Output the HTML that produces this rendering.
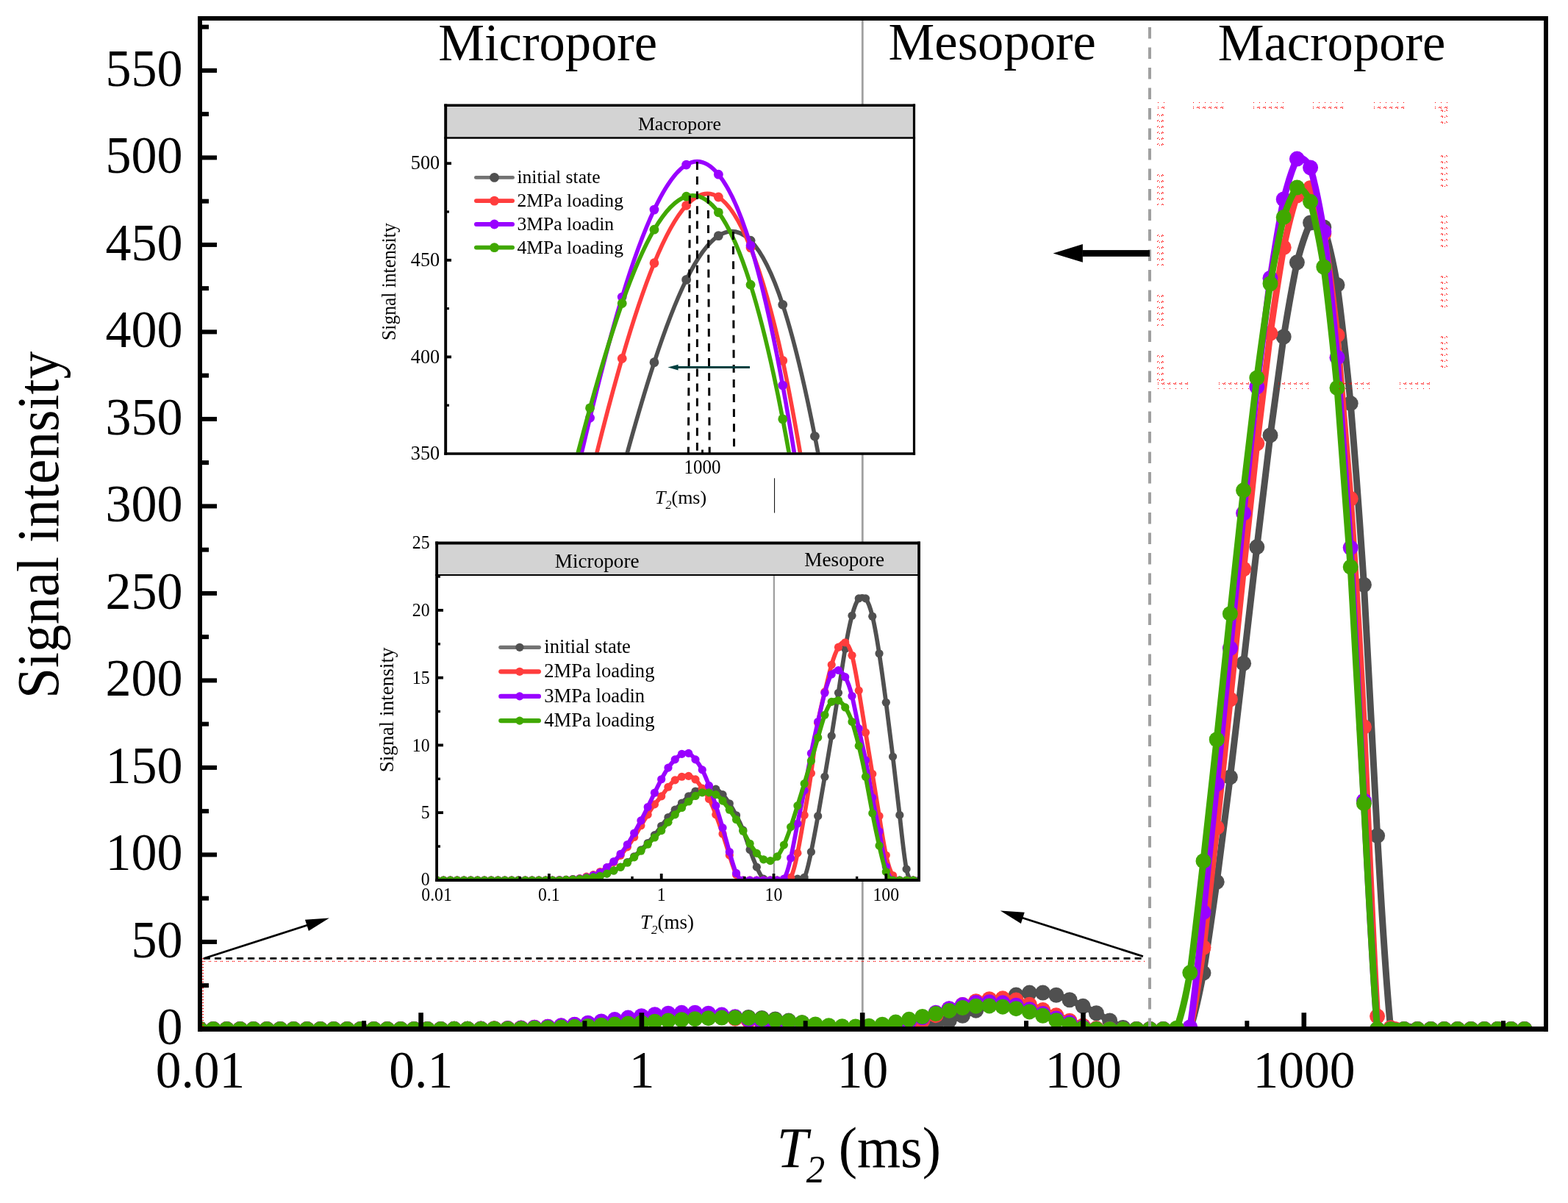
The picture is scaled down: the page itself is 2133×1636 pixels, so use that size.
<!DOCTYPE html>
<html lang="en"><head><meta charset="utf-8"><title>T2 spectrum - signal intensity</title>
<style>html,body{margin:0;padding:0;background:#fff}body{width:2133px;height:1636px;overflow:hidden}svg{display:block}text{font-family:"Liberation Serif",serif;fill:#000}</style>
</head><body>
<svg width="2133" height="1636" viewBox="0 0 2133 1636" role="img" aria-label="T2 spectrum: signal intensity versus T2 (ms) with two inset plots">
<defs>
<clipPath id="cm"><rect x="275" y="28" width="1825" height="1368"/></clipPath>
<clipPath id="ca"><rect x="608.2" y="188.6" width="633.8" height="426.8"/></clipPath>
<clipPath id="cb"><rect x="596" y="783" width="652.3" height="412.1"/></clipPath>
<pattern id="rdt" x="0" y="0" width="8" height="10" patternUnits="userSpaceOnUse"><g fill="#FF0000" shape-rendering="crispEdges"><rect x="0" y="0" width="1" height="1"/><rect x="6" y="6" width="1" height="1"/><rect x="0" y="6" width="1" height="1"/><rect x="5" y="7" width="1" height="1"/><rect x="7" y="7" width="1" height="1"/><rect x="0" y="8" width="1" height="1"/></g></pattern>
<pattern id="rdb" x="0" y="0" width="8" height="10" patternUnits="userSpaceOnUse"><g fill="#FF0000" shape-rendering="crispEdges"><rect x="0" y="9" width="1" height="1"/><rect x="6" y="3" width="1" height="1"/><rect x="0" y="3" width="1" height="1"/><rect x="5" y="2" width="1" height="1"/><rect x="7" y="2" width="1" height="1"/><rect x="0" y="1" width="1" height="1"/></g></pattern>
<pattern id="rdl" x="0" y="0" width="10" height="8" patternUnits="userSpaceOnUse"><g fill="#FF0000" shape-rendering="crispEdges"><rect x="1" y="0" width="1" height="1"/><rect x="0" y="1" width="1" height="1"/><rect x="3" y="2" width="1" height="1"/><rect x="7" y="0" width="1" height="1"/><rect x="6" y="1" width="1" height="1"/><rect x="8" y="1" width="1" height="1"/><rect x="6" y="2" width="1" height="1"/></g></pattern>
<pattern id="rdr" x="0" y="0" width="10" height="8" patternUnits="userSpaceOnUse"><g fill="#FF0000" shape-rendering="crispEdges"><rect x="8" y="0" width="1" height="1"/><rect x="9" y="1" width="1" height="1"/><rect x="6" y="2" width="1" height="1"/><rect x="2" y="0" width="1" height="1"/><rect x="3" y="1" width="1" height="1"/><rect x="1" y="1" width="1" height="1"/><rect x="3" y="2" width="1" height="1"/></g></pattern>
</defs>
<rect width="2133" height="1636" fill="#fff"/>
<line x1="1173.3" y1="25" x2="1173.3" y2="1399.4" stroke="#A0A0A0" stroke-width="2.8"/>
<g clip-path="url(#cm)">
<path d="M272,1399.4C278.07,1399.4 284.13,1399.4 290.2,1399.4C296.27,1399.4 302.33,1399.4 308.4,1399.4C314.47,1399.4 320.53,1399.4 326.6,1399.4C332.67,1399.4 338.73,1399.4 344.8,1399.4C350.87,1399.4 356.93,1399.4 363,1399.4C369.07,1399.4 375.13,1399.4 381.2,1399.4C387.27,1399.4 393.33,1399.4 399.4,1399.4C405.47,1399.4 411.53,1399.4 417.6,1399.4C423.67,1399.4 429.73,1399.4 435.8,1399.4C441.87,1399.4 447.93,1399.4 454,1399.4C460.07,1399.4 466.13,1399.4 472.2,1399.4C478.27,1399.4 484.33,1399.4 490.4,1399.4C496.47,1399.4 502.53,1399.4 508.6,1399.4C514.67,1399.4 520.73,1399.4 526.8,1399.4C532.87,1399.4 538.93,1399.4 545,1399.4C551.07,1399.4 557.13,1399.4 563.2,1399.4C569.27,1399.4 575.33,1399.4 581.4,1399.4C587.47,1399.4 593.53,1399.41 599.6,1399.4C605.67,1399.38 611.73,1399.36 617.8,1399.33C623.87,1399.3 629.93,1399.28 636,1399.26C642.07,1399.24 648.13,1399.22 654.2,1399.19C660.27,1399.13 666.33,1399.05 672.4,1399C678.47,1398.95 684.53,1398.92 690.6,1398.88C696.67,1398.82 702.73,1398.75 708.8,1398.67C714.87,1398.55 720.93,1398.41 727,1398.26C733.07,1398.09 739.13,1397.9 745.2,1397.72C751.27,1397.52 757.33,1397.33 763.4,1397.1C769.47,1396.84 775.53,1396.55 781.6,1396.25C787.67,1395.93 793.73,1395.6 799.8,1395.25C805.87,1394.89 811.93,1394.5 818,1394.11C824.07,1393.72 830.13,1393.32 836.2,1392.91C842.27,1392.46 848.33,1392 854.4,1391.51C860.47,1390.99 866.53,1390.45 872.6,1389.92C878.67,1389.4 884.73,1388.89 890.8,1388.4C896.87,1387.94 902.93,1387.5 909,1387.08C915.07,1386.67 921.13,1386.29 927.2,1385.89C933.27,1385.49 939.33,1385.08 945.4,1384.71C951.47,1384.37 957.53,1384.08 963.6,1383.83C969.67,1383.64 975.73,1383.51 981.8,1383.4C987.87,1383.34 993.93,1383.3 1000,1383.28C1006.07,1383.31 1012.13,1383.34 1018.2,1383.47C1024.27,1383.71 1030.33,1384.04 1036.4,1384.42C1042.47,1384.89 1048.53,1385.41 1054.6,1385.99C1060.67,1386.63 1066.73,1387.32 1072.8,1388.05C1078.87,1388.84 1084.93,1389.67 1091,1390.63C1097.07,1391.71 1103.13,1392.93 1109.2,1394.07C1115.27,1395.15 1121.33,1396.16 1127.4,1397.1C1133.47,1397.92 1139.53,1398.67 1145.6,1399.16C1151.67,1399.41 1157.73,1399.39 1163.8,1399.4C1169.87,1399.38 1175.93,1399.4 1182,1399.4C1188.07,1399.4 1194.13,1399.39 1200.2,1399.4C1206.27,1399.41 1212.33,1399.45 1218.4,1399.4C1224.47,1399.32 1230.53,1399.15 1236.6,1399.16C1242.67,1399.18 1248.73,1399.38 1254.8,1398.93C1260.87,1397.9 1266.93,1396.22 1273,1394.45C1279.07,1392.43 1285.13,1390.33 1291.2,1388.17C1297.27,1385.92 1303.33,1383.61 1309.4,1381.29C1315.47,1378.94 1321.53,1376.57 1327.6,1374.16C1333.67,1371.7 1339.73,1369.2 1345.8,1366.62C1351.87,1364.02 1357.93,1361.34 1364,1358.9C1370.07,1356.72 1376.13,1354.78 1382.2,1353.11C1388.27,1351.82 1394.33,1350.81 1400.4,1350.1C1406.47,1349.8 1412.53,1349.8 1418.6,1350.1C1424.67,1350.82 1430.73,1351.83 1436.8,1353.23C1442.87,1355.08 1448.93,1357.32 1455,1359.75C1461.07,1362.45 1467.13,1365.34 1473.2,1368.31C1479.27,1371.4 1485.33,1374.57 1491.4,1377.79C1497.47,1381.1 1503.53,1384.47 1509.6,1388C1515.67,1391.43 1521.73,1395.02 1527.8,1397.46C1533.87,1398.89 1539.93,1399.17 1546,1399.4C1552.07,1399.37 1558.13,1399.28 1564.2,1399.4C1570.27,1399.52 1576.33,1399.86 1582.4,1399.4C1588.47,1398.94 1594.53,1397.67 1600.6,1399.4C1606.67,1401.13 1612.73,1405.87 1618.8,1399.4C1624.87,1382.75 1630.93,1354.89 1637,1323.09C1643.07,1284.96 1649.13,1242.91 1655.2,1199.37C1661.27,1153.34 1667.33,1105.84 1673.4,1056.94C1679.47,1006.39 1685.53,954.45 1691.6,902.17C1697.67,849.42 1703.73,796.33 1709.8,743.86C1715.87,692.23 1721.93,641.22 1728,591.94C1734.07,545.06 1740.13,499.91 1746.2,458.04C1752.27,420.52 1758.33,386.28 1764.4,356.84C1770.47,333.72 1776.53,315.4 1782.6,303.04C1788.67,298.64 1794.73,300.21 1800.8,308.96C1806.87,327.39 1812.93,353 1819,387.41C1825.07,432.85 1831.13,487.1 1837.2,548.57C1843.27,621.45 1849.33,701.56 1855.4,795.29C1861.47,901.62 1867.53,1021.56 1873.6,1136.57C1879.67,1241.11 1885.73,1340.72 1891.8,1399.4C1897.87,1423.03 1903.93,1405.73 1910,1399.4C1916.07,1393.07 1922.13,1397.7 1928.2,1399.4C1934.27,1401.1 1940.33,1399.85 1946.4,1399.4C1952.47,1398.95 1958.53,1399.28 1964.6,1399.4C1970.67,1399.52 1976.73,1399.43 1982.8,1399.4C1988.87,1399.37 1994.93,1399.39 2001,1399.4C2007.07,1399.41 2013.13,1399.4 2019.2,1399.4C2025.27,1399.4 2031.33,1399.4 2037.4,1399.4C2043.47,1399.4 2049.53,1399.4 2055.6,1399.4C2061.67,1399.4 2067.73,1399.4 2073.8,1399.4" fill="none" stroke="#505050" stroke-width="9" stroke-linejoin="round" stroke-linecap="round"/>
<g fill="#505050"><circle cx="272" cy="1399.4" r="10.5"/><circle cx="290.2" cy="1399.4" r="10.5"/><circle cx="308.4" cy="1399.4" r="10.5"/><circle cx="326.6" cy="1399.4" r="10.5"/><circle cx="344.8" cy="1399.4" r="10.5"/><circle cx="363" cy="1399.4" r="10.5"/><circle cx="381.2" cy="1399.4" r="10.5"/><circle cx="399.4" cy="1399.4" r="10.5"/><circle cx="417.6" cy="1399.4" r="10.5"/><circle cx="435.8" cy="1399.4" r="10.5"/><circle cx="454" cy="1399.4" r="10.5"/><circle cx="472.2" cy="1399.4" r="10.5"/><circle cx="490.4" cy="1399.4" r="10.5"/><circle cx="508.6" cy="1399.4" r="10.5"/><circle cx="526.8" cy="1399.4" r="10.5"/><circle cx="545" cy="1399.4" r="10.5"/><circle cx="563.2" cy="1399.4" r="10.5"/><circle cx="581.4" cy="1399.4" r="10.5"/><circle cx="599.6" cy="1399.4" r="10.5"/><circle cx="617.8" cy="1399.33" r="10.5"/><circle cx="636" cy="1399.26" r="10.5"/><circle cx="654.2" cy="1399.19" r="10.5"/><circle cx="672.4" cy="1399" r="10.5"/><circle cx="690.6" cy="1398.88" r="10.5"/><circle cx="708.8" cy="1398.67" r="10.5"/><circle cx="727" cy="1398.26" r="10.5"/><circle cx="745.2" cy="1397.72" r="10.5"/><circle cx="763.4" cy="1397.1" r="10.5"/><circle cx="781.6" cy="1396.25" r="10.5"/><circle cx="799.8" cy="1395.25" r="10.5"/><circle cx="818" cy="1394.11" r="10.5"/><circle cx="836.2" cy="1392.91" r="10.5"/><circle cx="854.4" cy="1391.51" r="10.5"/><circle cx="872.6" cy="1389.92" r="10.5"/><circle cx="890.8" cy="1388.4" r="10.5"/><circle cx="909" cy="1387.08" r="10.5"/><circle cx="927.2" cy="1385.89" r="10.5"/><circle cx="945.4" cy="1384.71" r="10.5"/><circle cx="963.6" cy="1383.83" r="10.5"/><circle cx="981.8" cy="1383.4" r="10.5"/><circle cx="1000" cy="1383.28" r="10.5"/><circle cx="1018.2" cy="1383.47" r="10.5"/><circle cx="1036.4" cy="1384.42" r="10.5"/><circle cx="1054.6" cy="1385.99" r="10.5"/><circle cx="1072.8" cy="1388.05" r="10.5"/><circle cx="1091" cy="1390.63" r="10.5"/><circle cx="1109.2" cy="1394.07" r="10.5"/><circle cx="1127.4" cy="1397.1" r="10.5"/><circle cx="1145.6" cy="1399.16" r="10.5"/><circle cx="1163.8" cy="1399.4" r="10.5"/><circle cx="1182" cy="1399.4" r="10.5"/><circle cx="1200.2" cy="1399.4" r="10.5"/><circle cx="1218.4" cy="1399.4" r="10.5"/><circle cx="1236.6" cy="1399.16" r="10.5"/><circle cx="1254.8" cy="1398.93" r="10.5"/><circle cx="1273" cy="1394.45" r="10.5"/><circle cx="1291.2" cy="1388.17" r="10.5"/><circle cx="1309.4" cy="1381.29" r="10.5"/><circle cx="1327.6" cy="1374.16" r="10.5"/><circle cx="1345.8" cy="1366.62" r="10.5"/><circle cx="1364" cy="1358.9" r="10.5"/><circle cx="1382.2" cy="1353.11" r="10.5"/><circle cx="1400.4" cy="1350.1" r="10.5"/><circle cx="1418.6" cy="1350.1" r="10.5"/><circle cx="1436.8" cy="1353.23" r="10.5"/><circle cx="1455" cy="1359.75" r="10.5"/><circle cx="1473.2" cy="1368.31" r="10.5"/><circle cx="1491.4" cy="1377.79" r="10.5"/><circle cx="1509.6" cy="1388" r="10.5"/><circle cx="1527.8" cy="1397.46" r="10.5"/><circle cx="1546" cy="1399.4" r="10.5"/><circle cx="1564.2" cy="1399.4" r="10.5"/><circle cx="1582.4" cy="1399.4" r="10.5"/><circle cx="1600.6" cy="1399.4" r="10.5"/><circle cx="1618.8" cy="1399.4" r="10.5"/><circle cx="1637" cy="1323.09" r="10.5"/><circle cx="1655.2" cy="1199.37" r="10.5"/><circle cx="1673.4" cy="1056.94" r="10.5"/><circle cx="1691.6" cy="902.17" r="10.5"/><circle cx="1709.8" cy="743.86" r="10.5"/><circle cx="1728" cy="591.94" r="10.5"/><circle cx="1746.2" cy="458.04" r="10.5"/><circle cx="1764.4" cy="356.84" r="10.5"/><circle cx="1782.6" cy="303.04" r="10.5"/><circle cx="1800.8" cy="308.96" r="10.5"/><circle cx="1819" cy="387.41" r="10.5"/><circle cx="1837.2" cy="548.57" r="10.5"/><circle cx="1855.4" cy="795.29" r="10.5"/><circle cx="1873.6" cy="1136.57" r="10.5"/><circle cx="1891.8" cy="1399.4" r="10.5"/><circle cx="1910" cy="1399.4" r="10.5"/><circle cx="1928.2" cy="1399.4" r="10.5"/><circle cx="1946.4" cy="1399.4" r="10.5"/><circle cx="1964.6" cy="1399.4" r="10.5"/><circle cx="1982.8" cy="1399.4" r="10.5"/><circle cx="2001" cy="1399.4" r="10.5"/><circle cx="2019.2" cy="1399.4" r="10.5"/><circle cx="2037.4" cy="1399.4" r="10.5"/><circle cx="2055.6" cy="1399.4" r="10.5"/><circle cx="2073.8" cy="1399.4" r="10.5"/></g>
<path d="M272,1399.4C278.07,1399.4 284.13,1399.4 290.2,1399.4C296.27,1399.4 302.33,1399.4 308.4,1399.4C314.47,1399.4 320.53,1399.4 326.6,1399.4C332.67,1399.4 338.73,1399.4 344.8,1399.4C350.87,1399.4 356.93,1399.4 363,1399.4C369.07,1399.4 375.13,1399.4 381.2,1399.4C387.27,1399.4 393.33,1399.4 399.4,1399.4C405.47,1399.4 411.53,1399.4 417.6,1399.4C423.67,1399.4 429.73,1399.4 435.8,1399.4C441.87,1399.4 447.93,1399.4 454,1399.4C460.07,1399.4 466.13,1399.4 472.2,1399.4C478.27,1399.4 484.33,1399.4 490.4,1399.4C496.47,1399.4 502.53,1399.4 508.6,1399.4C514.67,1399.4 520.73,1399.4 526.8,1399.4C532.87,1399.4 538.93,1399.4 545,1399.4C551.07,1399.4 557.13,1399.4 563.2,1399.4C569.27,1399.4 575.33,1399.4 581.4,1399.4C587.47,1399.39 593.53,1399.38 599.6,1399.38C605.67,1399.36 611.73,1399.35 617.8,1399.33C623.87,1399.29 629.93,1399.25 636,1399.21C642.07,1399.17 648.13,1399.15 654.2,1399.09C660.27,1399.01 666.33,1398.89 672.4,1398.78C678.47,1398.67 684.53,1398.58 690.6,1398.45C696.67,1398.3 702.73,1398.13 708.8,1397.93C714.87,1397.71 720.93,1397.46 727,1397.2C733.07,1396.9 739.13,1396.59 745.2,1396.25C751.27,1395.88 757.33,1395.49 763.4,1395.06C769.47,1394.6 775.53,1394.11 781.6,1393.59C787.67,1393.04 793.73,1392.48 799.8,1391.86C805.87,1391.21 811.93,1390.52 818,1389.85C824.07,1389.19 830.13,1388.57 836.2,1387.93C842.27,1387.31 848.33,1386.68 854.4,1386.13C860.47,1385.63 866.53,1385.2 872.6,1384.71C878.67,1384.19 884.73,1383.61 890.8,1383.09C896.87,1382.63 902.93,1382.22 909,1381.89C915.07,1381.63 921.13,1381.44 927.2,1381.29C933.27,1381.21 939.33,1381.16 945.4,1381.17C951.47,1381.28 957.53,1381.46 963.6,1381.77C969.67,1382.21 975.73,1382.78 981.8,1383.33C987.87,1383.92 993.93,1384.49 1000,1385.18C1006.07,1385.99 1012.13,1386.94 1018.2,1387.93C1024.27,1389 1030.33,1390.13 1036.4,1391.29C1042.47,1392.51 1048.53,1393.76 1054.6,1395.04C1060.67,1396.27 1066.73,1397.53 1072.8,1398.43C1078.87,1399.01 1084.93,1399.23 1091,1399.4C1097.07,1399.44 1103.13,1399.41 1109.2,1399.4C1115.27,1399.39 1121.33,1399.4 1127.4,1399.4C1133.47,1399.4 1139.53,1399.4 1145.6,1399.4C1151.67,1399.4 1157.73,1399.4 1163.8,1399.4C1169.87,1399.4 1175.93,1399.41 1182,1399.4C1188.07,1399.39 1194.13,1399.36 1200.2,1399.4C1206.27,1399.37 1212.33,1399.41 1218.4,1398.93C1224.47,1397.93 1230.53,1396.41 1236.6,1394.66C1242.67,1392.59 1248.73,1390.28 1254.8,1388.02C1260.87,1385.67 1266.93,1383.36 1273,1380.68C1279.07,1377.8 1285.13,1374.55 1291.2,1371.91C1297.27,1369.71 1303.33,1368.14 1309.4,1366.46C1315.47,1364.87 1321.53,1363.18 1327.6,1361.72C1333.67,1360.47 1339.73,1359.45 1345.8,1358.64C1351.87,1358.12 1357.93,1357.82 1364,1357.81C1370.07,1358.2 1376.13,1358.88 1382.2,1360.06C1388.27,1361.76 1394.33,1363.96 1400.4,1366.22C1406.47,1368.64 1412.53,1371.12 1418.6,1373.57C1424.67,1375.99 1430.73,1378.38 1436.8,1380.8C1442.87,1383.23 1448.93,1385.68 1455,1388.17C1461.07,1390.58 1467.13,1393.03 1473.2,1395.04C1479.27,1396.6 1485.33,1397.73 1491.4,1398.57C1497.47,1399.05 1503.53,1399.26 1509.6,1399.4C1515.67,1399.43 1521.73,1399.4 1527.8,1399.4C1533.87,1399.4 1539.93,1399.45 1546,1399.4C1552.07,1399.35 1558.13,1399.21 1564.2,1399.4C1570.27,1399.59 1576.33,1400.1 1582.4,1399.4C1588.47,1398.7 1594.53,1396.78 1600.6,1399.4C1606.67,1402.02 1612.73,1409.17 1618.8,1399.4C1624.87,1374.84 1630.93,1333.36 1637,1288.48C1643.07,1236.65 1649.13,1181.42 1655.2,1125.43C1661.27,1067.92 1667.33,1009.64 1673.4,951C1679.47,891.97 1685.53,832.57 1691.6,773.72C1697.67,715.75 1703.73,658.32 1709.8,603.08C1715.87,550.62 1721.93,500.34 1728,453.3C1734.07,410.65 1740.13,371.24 1746.2,336.46C1752.27,307.83 1758.33,283.82 1764.4,265.83C1770.47,255.89 1776.53,251.97 1782.6,255.64C1788.67,268.94 1794.73,289.83 1800.8,317.73C1806.87,355.78 1812.93,400.85 1819,455.9C1825.07,522.17 1831.13,598.42 1837.2,678.21C1843.27,769.73 1849.33,864.79 1855.4,988.44C1861.47,1123.22 1867.53,1286.58 1873.6,1382.1C1879.67,1427.21 1885.73,1404.47 1891.8,1397.74C1897.87,1389.14 1903.93,1396.55 1910,1399.4C1916.07,1402.03 1922.13,1400.1 1928.2,1399.4C1934.27,1398.7 1940.33,1399.21 1946.4,1399.4C1952.47,1399.59 1958.53,1399.45 1964.6,1399.4C1970.67,1399.35 1976.73,1399.39 1982.8,1399.4C1988.87,1399.41 1994.93,1399.4 2001,1399.4C2007.07,1399.4 2013.13,1399.4 2019.2,1399.4C2025.27,1399.4 2031.33,1399.4 2037.4,1399.4C2043.47,1399.4 2049.53,1399.4 2055.6,1399.4C2061.67,1399.4 2067.73,1399.4 2073.8,1399.4" fill="none" stroke="#FF3D3D" stroke-width="9" stroke-linejoin="round" stroke-linecap="round"/>
<g fill="#FF3D3D"><circle cx="272" cy="1399.4" r="10.5"/><circle cx="290.2" cy="1399.4" r="10.5"/><circle cx="308.4" cy="1399.4" r="10.5"/><circle cx="326.6" cy="1399.4" r="10.5"/><circle cx="344.8" cy="1399.4" r="10.5"/><circle cx="363" cy="1399.4" r="10.5"/><circle cx="381.2" cy="1399.4" r="10.5"/><circle cx="399.4" cy="1399.4" r="10.5"/><circle cx="417.6" cy="1399.4" r="10.5"/><circle cx="435.8" cy="1399.4" r="10.5"/><circle cx="454" cy="1399.4" r="10.5"/><circle cx="472.2" cy="1399.4" r="10.5"/><circle cx="490.4" cy="1399.4" r="10.5"/><circle cx="508.6" cy="1399.4" r="10.5"/><circle cx="526.8" cy="1399.4" r="10.5"/><circle cx="545" cy="1399.4" r="10.5"/><circle cx="563.2" cy="1399.4" r="10.5"/><circle cx="581.4" cy="1399.4" r="10.5"/><circle cx="599.6" cy="1399.38" r="10.5"/><circle cx="617.8" cy="1399.33" r="10.5"/><circle cx="636" cy="1399.21" r="10.5"/><circle cx="654.2" cy="1399.09" r="10.5"/><circle cx="672.4" cy="1398.78" r="10.5"/><circle cx="690.6" cy="1398.45" r="10.5"/><circle cx="708.8" cy="1397.93" r="10.5"/><circle cx="727" cy="1397.2" r="10.5"/><circle cx="745.2" cy="1396.25" r="10.5"/><circle cx="763.4" cy="1395.06" r="10.5"/><circle cx="781.6" cy="1393.59" r="10.5"/><circle cx="799.8" cy="1391.86" r="10.5"/><circle cx="818" cy="1389.85" r="10.5"/><circle cx="836.2" cy="1387.93" r="10.5"/><circle cx="854.4" cy="1386.13" r="10.5"/><circle cx="872.6" cy="1384.71" r="10.5"/><circle cx="890.8" cy="1383.09" r="10.5"/><circle cx="909" cy="1381.89" r="10.5"/><circle cx="927.2" cy="1381.29" r="10.5"/><circle cx="945.4" cy="1381.17" r="10.5"/><circle cx="963.6" cy="1381.77" r="10.5"/><circle cx="981.8" cy="1383.33" r="10.5"/><circle cx="1000" cy="1385.18" r="10.5"/><circle cx="1018.2" cy="1387.93" r="10.5"/><circle cx="1036.4" cy="1391.29" r="10.5"/><circle cx="1054.6" cy="1395.04" r="10.5"/><circle cx="1072.8" cy="1398.43" r="10.5"/><circle cx="1091" cy="1399.4" r="10.5"/><circle cx="1109.2" cy="1399.4" r="10.5"/><circle cx="1127.4" cy="1399.4" r="10.5"/><circle cx="1145.6" cy="1399.4" r="10.5"/><circle cx="1163.8" cy="1399.4" r="10.5"/><circle cx="1182" cy="1399.4" r="10.5"/><circle cx="1200.2" cy="1399.4" r="10.5"/><circle cx="1218.4" cy="1398.93" r="10.5"/><circle cx="1236.6" cy="1394.66" r="10.5"/><circle cx="1254.8" cy="1388.02" r="10.5"/><circle cx="1273" cy="1380.68" r="10.5"/><circle cx="1291.2" cy="1371.91" r="10.5"/><circle cx="1309.4" cy="1366.46" r="10.5"/><circle cx="1327.6" cy="1361.72" r="10.5"/><circle cx="1345.8" cy="1358.64" r="10.5"/><circle cx="1364" cy="1357.81" r="10.5"/><circle cx="1382.2" cy="1360.06" r="10.5"/><circle cx="1400.4" cy="1366.22" r="10.5"/><circle cx="1418.6" cy="1373.57" r="10.5"/><circle cx="1436.8" cy="1380.8" r="10.5"/><circle cx="1455" cy="1388.17" r="10.5"/><circle cx="1473.2" cy="1395.04" r="10.5"/><circle cx="1491.4" cy="1398.57" r="10.5"/><circle cx="1509.6" cy="1399.4" r="10.5"/><circle cx="1527.8" cy="1399.4" r="10.5"/><circle cx="1546" cy="1399.4" r="10.5"/><circle cx="1564.2" cy="1399.4" r="10.5"/><circle cx="1582.4" cy="1399.4" r="10.5"/><circle cx="1600.6" cy="1399.4" r="10.5"/><circle cx="1618.8" cy="1399.4" r="10.5"/><circle cx="1637" cy="1288.48" r="10.5"/><circle cx="1655.2" cy="1125.43" r="10.5"/><circle cx="1673.4" cy="951" r="10.5"/><circle cx="1691.6" cy="773.72" r="10.5"/><circle cx="1709.8" cy="603.08" r="10.5"/><circle cx="1728" cy="453.3" r="10.5"/><circle cx="1746.2" cy="336.46" r="10.5"/><circle cx="1764.4" cy="265.83" r="10.5"/><circle cx="1782.6" cy="255.64" r="10.5"/><circle cx="1800.8" cy="317.73" r="10.5"/><circle cx="1819" cy="455.9" r="10.5"/><circle cx="1837.2" cy="678.21" r="10.5"/><circle cx="1855.4" cy="988.44" r="10.5"/><circle cx="1873.6" cy="1382.1" r="10.5"/><circle cx="1891.8" cy="1397.74" r="10.5"/><circle cx="1910" cy="1399.4" r="10.5"/><circle cx="1928.2" cy="1399.4" r="10.5"/><circle cx="1946.4" cy="1399.4" r="10.5"/><circle cx="1964.6" cy="1399.4" r="10.5"/><circle cx="1982.8" cy="1399.4" r="10.5"/><circle cx="2001" cy="1399.4" r="10.5"/><circle cx="2019.2" cy="1399.4" r="10.5"/><circle cx="2037.4" cy="1399.4" r="10.5"/><circle cx="2055.6" cy="1399.4" r="10.5"/><circle cx="2073.8" cy="1399.4" r="10.5"/></g>
<path d="M272,1399.4C278.07,1399.4 284.13,1399.4 290.2,1399.4C296.27,1399.4 302.33,1399.4 308.4,1399.4C314.47,1399.4 320.53,1399.4 326.6,1399.4C332.67,1399.4 338.73,1399.4 344.8,1399.4C350.87,1399.4 356.93,1399.4 363,1399.4C369.07,1399.4 375.13,1399.4 381.2,1399.4C387.27,1399.4 393.33,1399.4 399.4,1399.4C405.47,1399.4 411.53,1399.4 417.6,1399.4C423.67,1399.4 429.73,1399.4 435.8,1399.4C441.87,1399.4 447.93,1399.4 454,1399.4C460.07,1399.4 466.13,1399.4 472.2,1399.4C478.27,1399.4 484.33,1399.4 490.4,1399.4C496.47,1399.4 502.53,1399.4 508.6,1399.4C514.67,1399.4 520.73,1399.4 526.8,1399.4C532.87,1399.4 538.93,1399.4 545,1399.4C551.07,1399.4 557.13,1399.4 563.2,1399.4C569.27,1399.4 575.33,1399.4 581.4,1399.4C587.47,1399.39 593.53,1399.38 599.6,1399.38C605.67,1399.36 611.73,1399.35 617.8,1399.33C623.87,1399.29 629.93,1399.25 636,1399.21C642.07,1399.18 648.13,1399.15 654.2,1399.12C660.27,1399.06 666.33,1398.99 672.4,1398.9C678.47,1398.8 684.53,1398.67 690.6,1398.55C696.67,1398.4 702.73,1398.26 708.8,1398.05C714.87,1397.79 720.93,1397.46 727,1397.15C733.07,1396.82 739.13,1396.49 745.2,1396.13C751.27,1395.72 757.33,1395.28 763.4,1394.8C769.47,1394.29 775.53,1393.75 781.6,1393.17C787.67,1392.54 793.73,1391.87 799.8,1391.18C805.87,1390.46 811.93,1389.72 818,1388.97C824.07,1388.2 830.13,1387.41 836.2,1386.6C842.27,1385.78 848.33,1384.94 854.4,1384.11C860.47,1383.3 866.53,1382.51 872.6,1381.74C878.67,1381.03 884.73,1380.34 890.8,1379.73C896.87,1379.19 902.93,1378.72 909,1378.28C915.07,1377.91 921.13,1377.57 927.2,1377.31C933.27,1377.17 939.33,1377.1 945.4,1377.19C951.47,1377.44 957.53,1377.84 963.6,1378.28C969.67,1378.82 975.73,1379.39 981.8,1380.08C987.87,1380.91 993.93,1381.84 1000,1382.86C1006.07,1383.97 1012.13,1385.16 1018.2,1386.37C1024.27,1387.62 1030.33,1388.9 1036.4,1390.23C1042.47,1391.6 1048.53,1393.02 1054.6,1394.45C1060.67,1395.8 1066.73,1397.16 1072.8,1398.17C1078.87,1398.84 1084.93,1399.18 1091,1399.4C1097.07,1399.46 1103.13,1399.42 1109.2,1399.4C1115.27,1399.38 1121.33,1399.4 1127.4,1399.4C1133.47,1399.4 1139.53,1399.4 1145.6,1399.4C1151.67,1399.4 1157.73,1399.41 1163.8,1399.4C1169.87,1399.39 1175.93,1399.35 1182,1399.4C1188.07,1399.42 1194.13,1399.52 1200.2,1399.16C1206.27,1398.36 1212.33,1397.09 1218.4,1395.54C1224.47,1393.66 1230.53,1391.5 1236.6,1389.49C1242.67,1387.53 1248.73,1385.72 1254.8,1383.71C1260.87,1381.6 1266.93,1379.29 1273,1377.19C1279.07,1375.22 1285.13,1373.46 1291.2,1371.67C1297.27,1369.94 1303.33,1368.18 1309.4,1366.62C1315.47,1365.31 1321.53,1364.2 1327.6,1363.38C1333.67,1362.89 1339.73,1362.7 1345.8,1362.67C1351.87,1362.89 1357.93,1363.27 1364,1363.85C1370.07,1364.71 1376.13,1365.76 1382.2,1367.17C1388.27,1368.89 1394.33,1370.96 1400.4,1372.86C1406.47,1374.74 1412.53,1376.45 1418.6,1378.4C1424.67,1380.49 1430.73,1382.82 1436.8,1384.94C1442.87,1386.98 1448.93,1388.81 1455,1390.87C1461.07,1392.96 1467.13,1395.28 1473.2,1397.03C1479.27,1398.28 1485.33,1398.95 1491.4,1399.4C1497.47,1399.53 1503.53,1399.44 1509.6,1399.4C1515.67,1399.36 1521.73,1399.37 1527.8,1399.4C1533.87,1399.43 1539.93,1399.48 1546,1399.4C1552.07,1399.32 1558.13,1399.13 1564.2,1399.4C1570.27,1399.67 1576.33,1400.41 1582.4,1399.4C1588.47,1398.39 1594.53,1395.62 1600.6,1399.4C1606.67,1402.87 1612.73,1412.89 1618.8,1397.03C1624.87,1360.63 1630.93,1298.36 1637,1240.61C1643.07,1180.49 1649.13,1124.9 1655.2,1066.41C1661.27,1006.51 1667.33,943.71 1673.4,881.56C1679.47,819.55 1685.53,758.19 1691.6,697.88C1697.67,639.15 1703.73,581.48 1709.8,526.06C1715.87,473.82 1721.93,423.85 1728,378.17C1734.07,337.92 1740.13,301.98 1746.2,271.04C1752.27,247.06 1758.33,228.1 1764.4,216.06C1770.47,212.93 1776.53,216.74 1782.6,227.91C1788.67,249.1 1794.73,277.66 1800.8,314.89C1806.87,363.37 1812.93,420.51 1819,486.24C1825.07,563.6 1831.13,649.54 1837.2,744.81C1843.27,851.48 1849.33,967.47 1855.4,1088.93C1861.47,1205.9 1867.53,1328.34 1873.6,1399.4C1879.67,1429.06 1885.73,1407.35 1891.8,1399.4C1897.87,1391.45 1903.93,1397.27 1910,1399.4C1916.07,1401.53 1922.13,1399.97 1928.2,1399.4C1934.27,1398.83 1940.33,1399.25 1946.4,1399.4C1952.47,1399.55 1958.53,1399.44 1964.6,1399.4C1970.67,1399.36 1976.73,1399.39 1982.8,1399.4C1988.87,1399.41 1994.93,1399.4 2001,1399.4C2007.07,1399.4 2013.13,1399.4 2019.2,1399.4C2025.27,1399.4 2031.33,1399.4 2037.4,1399.4C2043.47,1399.4 2049.53,1399.4 2055.6,1399.4C2061.67,1399.4 2067.73,1399.4 2073.8,1399.4" fill="none" stroke="#9900FF" stroke-width="9" stroke-linejoin="round" stroke-linecap="round"/>
<g fill="#9900FF"><circle cx="272" cy="1399.4" r="10.5"/><circle cx="290.2" cy="1399.4" r="10.5"/><circle cx="308.4" cy="1399.4" r="10.5"/><circle cx="326.6" cy="1399.4" r="10.5"/><circle cx="344.8" cy="1399.4" r="10.5"/><circle cx="363" cy="1399.4" r="10.5"/><circle cx="381.2" cy="1399.4" r="10.5"/><circle cx="399.4" cy="1399.4" r="10.5"/><circle cx="417.6" cy="1399.4" r="10.5"/><circle cx="435.8" cy="1399.4" r="10.5"/><circle cx="454" cy="1399.4" r="10.5"/><circle cx="472.2" cy="1399.4" r="10.5"/><circle cx="490.4" cy="1399.4" r="10.5"/><circle cx="508.6" cy="1399.4" r="10.5"/><circle cx="526.8" cy="1399.4" r="10.5"/><circle cx="545" cy="1399.4" r="10.5"/><circle cx="563.2" cy="1399.4" r="10.5"/><circle cx="581.4" cy="1399.4" r="10.5"/><circle cx="599.6" cy="1399.38" r="10.5"/><circle cx="617.8" cy="1399.33" r="10.5"/><circle cx="636" cy="1399.21" r="10.5"/><circle cx="654.2" cy="1399.12" r="10.5"/><circle cx="672.4" cy="1398.9" r="10.5"/><circle cx="690.6" cy="1398.55" r="10.5"/><circle cx="708.8" cy="1398.05" r="10.5"/><circle cx="727" cy="1397.15" r="10.5"/><circle cx="745.2" cy="1396.13" r="10.5"/><circle cx="763.4" cy="1394.8" r="10.5"/><circle cx="781.6" cy="1393.17" r="10.5"/><circle cx="799.8" cy="1391.18" r="10.5"/><circle cx="818" cy="1388.97" r="10.5"/><circle cx="836.2" cy="1386.6" r="10.5"/><circle cx="854.4" cy="1384.11" r="10.5"/><circle cx="872.6" cy="1381.74" r="10.5"/><circle cx="890.8" cy="1379.73" r="10.5"/><circle cx="909" cy="1378.28" r="10.5"/><circle cx="927.2" cy="1377.31" r="10.5"/><circle cx="945.4" cy="1377.19" r="10.5"/><circle cx="963.6" cy="1378.28" r="10.5"/><circle cx="981.8" cy="1380.08" r="10.5"/><circle cx="1000" cy="1382.86" r="10.5"/><circle cx="1018.2" cy="1386.37" r="10.5"/><circle cx="1036.4" cy="1390.23" r="10.5"/><circle cx="1054.6" cy="1394.45" r="10.5"/><circle cx="1072.8" cy="1398.17" r="10.5"/><circle cx="1091" cy="1399.4" r="10.5"/><circle cx="1109.2" cy="1399.4" r="10.5"/><circle cx="1127.4" cy="1399.4" r="10.5"/><circle cx="1145.6" cy="1399.4" r="10.5"/><circle cx="1163.8" cy="1399.4" r="10.5"/><circle cx="1182" cy="1399.4" r="10.5"/><circle cx="1200.2" cy="1399.16" r="10.5"/><circle cx="1218.4" cy="1395.54" r="10.5"/><circle cx="1236.6" cy="1389.49" r="10.5"/><circle cx="1254.8" cy="1383.71" r="10.5"/><circle cx="1273" cy="1377.19" r="10.5"/><circle cx="1291.2" cy="1371.67" r="10.5"/><circle cx="1309.4" cy="1366.62" r="10.5"/><circle cx="1327.6" cy="1363.38" r="10.5"/><circle cx="1345.8" cy="1362.67" r="10.5"/><circle cx="1364" cy="1363.85" r="10.5"/><circle cx="1382.2" cy="1367.17" r="10.5"/><circle cx="1400.4" cy="1372.86" r="10.5"/><circle cx="1418.6" cy="1378.4" r="10.5"/><circle cx="1436.8" cy="1384.94" r="10.5"/><circle cx="1455" cy="1390.87" r="10.5"/><circle cx="1473.2" cy="1397.03" r="10.5"/><circle cx="1491.4" cy="1399.4" r="10.5"/><circle cx="1509.6" cy="1399.4" r="10.5"/><circle cx="1527.8" cy="1399.4" r="10.5"/><circle cx="1546" cy="1399.4" r="10.5"/><circle cx="1564.2" cy="1399.4" r="10.5"/><circle cx="1582.4" cy="1399.4" r="10.5"/><circle cx="1600.6" cy="1399.4" r="10.5"/><circle cx="1618.8" cy="1397.03" r="10.5"/><circle cx="1637" cy="1240.61" r="10.5"/><circle cx="1655.2" cy="1066.41" r="10.5"/><circle cx="1673.4" cy="881.56" r="10.5"/><circle cx="1691.6" cy="697.88" r="10.5"/><circle cx="1709.8" cy="526.06" r="10.5"/><circle cx="1728" cy="378.17" r="10.5"/><circle cx="1746.2" cy="271.04" r="10.5"/><circle cx="1764.4" cy="216.06" r="10.5"/><circle cx="1782.6" cy="227.91" r="10.5"/><circle cx="1800.8" cy="314.89" r="10.5"/><circle cx="1819" cy="486.24" r="10.5"/><circle cx="1837.2" cy="744.81" r="10.5"/><circle cx="1855.4" cy="1088.93" r="10.5"/><circle cx="1873.6" cy="1399.4" r="10.5"/><circle cx="1891.8" cy="1399.4" r="10.5"/><circle cx="1910" cy="1399.4" r="10.5"/><circle cx="1928.2" cy="1399.4" r="10.5"/><circle cx="1946.4" cy="1399.4" r="10.5"/><circle cx="1964.6" cy="1399.4" r="10.5"/><circle cx="1982.8" cy="1399.4" r="10.5"/><circle cx="2001" cy="1399.4" r="10.5"/><circle cx="2019.2" cy="1399.4" r="10.5"/><circle cx="2037.4" cy="1399.4" r="10.5"/><circle cx="2055.6" cy="1399.4" r="10.5"/><circle cx="2073.8" cy="1399.4" r="10.5"/></g>
<path d="M272,1399.4C278.07,1399.4 284.13,1399.4 290.2,1399.4C296.27,1399.4 302.33,1399.4 308.4,1399.4C314.47,1399.4 320.53,1399.4 326.6,1399.4C332.67,1399.4 338.73,1399.4 344.8,1399.4C350.87,1399.4 356.93,1399.4 363,1399.4C369.07,1399.4 375.13,1399.4 381.2,1399.4C387.27,1399.4 393.33,1399.4 399.4,1399.4C405.47,1399.4 411.53,1399.4 417.6,1399.4C423.67,1399.4 429.73,1399.4 435.8,1399.4C441.87,1399.4 447.93,1399.4 454,1399.4C460.07,1399.4 466.13,1399.4 472.2,1399.4C478.27,1399.4 484.33,1399.4 490.4,1399.4C496.47,1399.4 502.53,1399.4 508.6,1399.4C514.67,1399.4 520.73,1399.4 526.8,1399.4C532.87,1399.4 538.93,1399.4 545,1399.4C551.07,1399.4 557.13,1399.4 563.2,1399.4C569.27,1399.4 575.33,1399.4 581.4,1399.4C587.47,1399.4 593.53,1399.41 599.6,1399.4C605.67,1399.38 611.73,1399.36 617.8,1399.33C623.87,1399.3 629.93,1399.28 636,1399.26C642.07,1399.24 648.13,1399.22 654.2,1399.19C660.27,1399.13 666.33,1399.05 672.4,1399C678.47,1398.95 684.53,1398.92 690.6,1398.88C696.67,1398.82 702.73,1398.75 708.8,1398.67C714.87,1398.55 720.93,1398.41 727,1398.26C733.07,1398.09 739.13,1397.9 745.2,1397.72C751.27,1397.53 757.33,1397.34 763.4,1397.12C769.47,1396.89 775.53,1396.62 781.6,1396.34C787.67,1396.04 793.73,1395.73 799.8,1395.39C805.87,1395.04 811.93,1394.66 818,1394.28C824.07,1393.9 830.13,1393.51 836.2,1393.12C842.27,1392.73 848.33,1392.32 854.4,1391.93C860.47,1391.54 866.53,1391.16 872.6,1390.73C878.67,1390.26 884.73,1389.74 890.8,1389.26C896.87,1388.79 902.93,1388.36 909,1387.93C915.07,1387.52 921.13,1387.11 927.2,1386.72C933.27,1386.35 939.33,1385.99 945.4,1385.63C951.47,1385.29 957.53,1384.96 963.6,1384.66C969.67,1384.41 975.73,1384.2 981.8,1384.07C987.87,1384.01 993.93,1384.03 1000,1384.07C1006.07,1384.15 1012.13,1384.24 1018.2,1384.42C1024.27,1384.71 1030.33,1385.08 1036.4,1385.51C1042.47,1386 1048.53,1386.54 1054.6,1387.08C1060.67,1387.63 1066.73,1388.19 1072.8,1388.78C1078.87,1389.42 1084.93,1390.11 1091,1390.82C1097.07,1391.55 1103.13,1392.31 1109.2,1393C1115.27,1393.62 1121.33,1394.18 1127.4,1394.68C1133.47,1395.11 1139.53,1395.49 1145.6,1395.77C1151.67,1395.94 1157.73,1396.02 1163.8,1396.01C1169.87,1395.87 1175.93,1395.65 1182,1395.28C1188.07,1394.73 1194.13,1394.04 1200.2,1393.24C1206.27,1392.28 1212.33,1391.21 1218.4,1390.09C1224.47,1388.88 1230.53,1387.63 1236.6,1386.37C1242.67,1385.09 1248.73,1383.8 1254.8,1382.5C1260.87,1381.19 1266.93,1379.85 1273,1378.52C1279.07,1377.17 1285.13,1375.82 1291.2,1374.44C1297.27,1373.08 1303.33,1371.68 1309.4,1370.49C1315.47,1369.51 1321.53,1368.74 1327.6,1368.19C1333.67,1367.91 1339.73,1367.87 1345.8,1367.95C1351.87,1368.23 1357.93,1368.64 1364,1369.16C1370.07,1369.85 1376.13,1370.66 1382.2,1371.67C1388.27,1372.91 1394.33,1374.36 1400.4,1375.89C1406.47,1377.58 1412.53,1379.35 1418.6,1381.29C1424.67,1383.37 1430.73,1385.6 1436.8,1387.69C1442.87,1389.68 1448.93,1391.53 1455,1393.36C1461.07,1395.04 1467.13,1396.7 1473.2,1397.93C1479.27,1398.75 1485.33,1399.14 1491.4,1399.4C1497.47,1399.47 1503.53,1399.41 1509.6,1399.4C1515.67,1399.39 1521.73,1399.42 1527.8,1399.4C1533.87,1399.38 1539.93,1399.3 1546,1399.4C1552.07,1399.5 1558.13,1399.76 1564.2,1399.4C1570.27,1399.04 1576.33,1398.06 1582.4,1399.4C1588.47,1400.58 1594.53,1404.09 1600.6,1398.22C1606.67,1382.45 1612.73,1357.29 1618.8,1322.85C1624.87,1278.2 1630.93,1224.26 1637,1170.93C1643.07,1115.84 1649.13,1061.36 1655.2,1005.74C1661.27,949.33 1667.33,891.78 1673.4,834.63C1679.47,777.92 1685.53,721.6 1691.6,666.83C1697.67,614.06 1703.73,562.84 1709.8,513.97C1715.87,468.38 1721.93,425.14 1728,385.75C1734.07,351.42 1740.13,320.93 1746.2,295.45C1752.27,276.61 1758.33,262.77 1764.4,254.93C1770.47,255.08 1776.53,261.23 1782.6,274.36C1788.67,296.72 1794.73,326.06 1800.8,363C1806.87,410.05 1812.93,464.7 1819,527.48C1825.07,600.81 1831.13,682.26 1837.2,771.11C1843.27,870.33 1849.33,976.95 1855.4,1092.49C1861.47,1206.09 1867.53,1328.61 1873.6,1399.4C1879.67,1429.27 1885.73,1407.4 1891.8,1399.4C1897.87,1391.4 1903.93,1397.26 1910,1399.4C1916.07,1401.54 1922.13,1399.97 1928.2,1399.4C1934.27,1398.83 1940.33,1399.25 1946.4,1399.4C1952.47,1399.55 1958.53,1399.44 1964.6,1399.4C1970.67,1399.36 1976.73,1399.39 1982.8,1399.4C1988.87,1399.41 1994.93,1399.4 2001,1399.4C2007.07,1399.4 2013.13,1399.4 2019.2,1399.4C2025.27,1399.4 2031.33,1399.4 2037.4,1399.4C2043.47,1399.4 2049.53,1399.4 2055.6,1399.4C2061.67,1399.4 2067.73,1399.4 2073.8,1399.4" fill="none" stroke="#40A800" stroke-width="9" stroke-linejoin="round" stroke-linecap="round"/>
<g fill="#40A800"><circle cx="272" cy="1399.4" r="10.5"/><circle cx="290.2" cy="1399.4" r="10.5"/><circle cx="308.4" cy="1399.4" r="10.5"/><circle cx="326.6" cy="1399.4" r="10.5"/><circle cx="344.8" cy="1399.4" r="10.5"/><circle cx="363" cy="1399.4" r="10.5"/><circle cx="381.2" cy="1399.4" r="10.5"/><circle cx="399.4" cy="1399.4" r="10.5"/><circle cx="417.6" cy="1399.4" r="10.5"/><circle cx="435.8" cy="1399.4" r="10.5"/><circle cx="454" cy="1399.4" r="10.5"/><circle cx="472.2" cy="1399.4" r="10.5"/><circle cx="490.4" cy="1399.4" r="10.5"/><circle cx="508.6" cy="1399.4" r="10.5"/><circle cx="526.8" cy="1399.4" r="10.5"/><circle cx="545" cy="1399.4" r="10.5"/><circle cx="563.2" cy="1399.4" r="10.5"/><circle cx="581.4" cy="1399.4" r="10.5"/><circle cx="599.6" cy="1399.4" r="10.5"/><circle cx="617.8" cy="1399.33" r="10.5"/><circle cx="636" cy="1399.26" r="10.5"/><circle cx="654.2" cy="1399.19" r="10.5"/><circle cx="672.4" cy="1399" r="10.5"/><circle cx="690.6" cy="1398.88" r="10.5"/><circle cx="708.8" cy="1398.67" r="10.5"/><circle cx="727" cy="1398.26" r="10.5"/><circle cx="745.2" cy="1397.72" r="10.5"/><circle cx="763.4" cy="1397.12" r="10.5"/><circle cx="781.6" cy="1396.34" r="10.5"/><circle cx="799.8" cy="1395.39" r="10.5"/><circle cx="818" cy="1394.28" r="10.5"/><circle cx="836.2" cy="1393.12" r="10.5"/><circle cx="854.4" cy="1391.93" r="10.5"/><circle cx="872.6" cy="1390.73" r="10.5"/><circle cx="890.8" cy="1389.26" r="10.5"/><circle cx="909" cy="1387.93" r="10.5"/><circle cx="927.2" cy="1386.72" r="10.5"/><circle cx="945.4" cy="1385.63" r="10.5"/><circle cx="963.6" cy="1384.66" r="10.5"/><circle cx="981.8" cy="1384.07" r="10.5"/><circle cx="1000" cy="1384.07" r="10.5"/><circle cx="1018.2" cy="1384.42" r="10.5"/><circle cx="1036.4" cy="1385.51" r="10.5"/><circle cx="1054.6" cy="1387.08" r="10.5"/><circle cx="1072.8" cy="1388.78" r="10.5"/><circle cx="1091" cy="1390.82" r="10.5"/><circle cx="1109.2" cy="1393" r="10.5"/><circle cx="1127.4" cy="1394.68" r="10.5"/><circle cx="1145.6" cy="1395.77" r="10.5"/><circle cx="1163.8" cy="1396.01" r="10.5"/><circle cx="1182" cy="1395.28" r="10.5"/><circle cx="1200.2" cy="1393.24" r="10.5"/><circle cx="1218.4" cy="1390.09" r="10.5"/><circle cx="1236.6" cy="1386.37" r="10.5"/><circle cx="1254.8" cy="1382.5" r="10.5"/><circle cx="1273" cy="1378.52" r="10.5"/><circle cx="1291.2" cy="1374.44" r="10.5"/><circle cx="1309.4" cy="1370.49" r="10.5"/><circle cx="1327.6" cy="1368.19" r="10.5"/><circle cx="1345.8" cy="1367.95" r="10.5"/><circle cx="1364" cy="1369.16" r="10.5"/><circle cx="1382.2" cy="1371.67" r="10.5"/><circle cx="1400.4" cy="1375.89" r="10.5"/><circle cx="1418.6" cy="1381.29" r="10.5"/><circle cx="1436.8" cy="1387.69" r="10.5"/><circle cx="1455" cy="1393.36" r="10.5"/><circle cx="1473.2" cy="1397.93" r="10.5"/><circle cx="1491.4" cy="1399.4" r="10.5"/><circle cx="1509.6" cy="1399.4" r="10.5"/><circle cx="1527.8" cy="1399.4" r="10.5"/><circle cx="1546" cy="1399.4" r="10.5"/><circle cx="1564.2" cy="1399.4" r="10.5"/><circle cx="1582.4" cy="1399.4" r="10.5"/><circle cx="1600.6" cy="1398.22" r="10.5"/><circle cx="1618.8" cy="1322.85" r="10.5"/><circle cx="1637" cy="1170.93" r="10.5"/><circle cx="1655.2" cy="1005.74" r="10.5"/><circle cx="1673.4" cy="834.63" r="10.5"/><circle cx="1691.6" cy="666.83" r="10.5"/><circle cx="1709.8" cy="513.97" r="10.5"/><circle cx="1728" cy="385.75" r="10.5"/><circle cx="1746.2" cy="295.45" r="10.5"/><circle cx="1764.4" cy="254.93" r="10.5"/><circle cx="1782.6" cy="274.36" r="10.5"/><circle cx="1800.8" cy="363" r="10.5"/><circle cx="1819" cy="527.48" r="10.5"/><circle cx="1837.2" cy="771.11" r="10.5"/><circle cx="1855.4" cy="1092.49" r="10.5"/><circle cx="1873.6" cy="1399.4" r="10.5"/><circle cx="1891.8" cy="1399.4" r="10.5"/><circle cx="1910" cy="1399.4" r="10.5"/><circle cx="1928.2" cy="1399.4" r="10.5"/><circle cx="1946.4" cy="1399.4" r="10.5"/><circle cx="1964.6" cy="1399.4" r="10.5"/><circle cx="1982.8" cy="1399.4" r="10.5"/><circle cx="2001" cy="1399.4" r="10.5"/><circle cx="2019.2" cy="1399.4" r="10.5"/><circle cx="2037.4" cy="1399.4" r="10.5"/><circle cx="2055.6" cy="1399.4" r="10.5"/><circle cx="2073.8" cy="1399.4" r="10.5"/></g>
</g>
<line x1="1564" y1="37.1" x2="1564" y2="1396" stroke="#A0A0A0" stroke-width="4" stroke-dasharray="15.3 12.2"/>
<line x1="276" y1="1307.3" x2="1558" y2="1307.3" stroke="#FF0000" stroke-width="1.3" stroke-dasharray="1.1 0.9 1.1 4.9"/>
<line x1="276.2" y1="1303" x2="276.2" y2="1397" stroke="#FF0000" stroke-width="1.6" stroke-dasharray="1.2 2.8"/>
<line x1="276.9" y1="1303.4" x2="1555" y2="1303.4" stroke="#000" stroke-width="2.8" stroke-dasharray="9 6.08"/>
<line x1="277" y1="1303.5" x2="419.34" y2="1257.78" stroke="#000" stroke-width="2.8"/>
<polygon points="447.9,1248.6 419.88,1266 414.99,1250.77" fill="#000"/>
<line x1="1554.9" y1="1300.6" x2="1389.38" y2="1247.73" stroke="#000" stroke-width="2.8"/>
<polygon points="1360.8,1238.6 1393.72,1240.72 1388.85,1255.96" fill="#000"/>
<rect x="1472.5" y="340.1" width="91.5" height="8.8" fill="#000"/>
<polygon points="1432.6,344.5 1472.9,332 1472.9,356.8" fill="#000"/>
<rect transform="translate(1575,139)" width="9" height="10" fill="url(#rdt)"/>
<rect transform="translate(1623,139)" width="42" height="10" fill="url(#rdt)"/>
<rect transform="translate(1705,139)" width="42" height="10" fill="url(#rdt)"/>
<rect transform="translate(1786,139)" width="43" height="10" fill="url(#rdt)"/>
<rect transform="translate(1869,139)" width="44" height="10" fill="url(#rdt)"/>
<rect transform="translate(1952,139)" width="17" height="10" fill="url(#rdt)"/>
<rect transform="translate(1575,519)" width="41" height="10" fill="url(#rdb)"/>
<rect transform="translate(1658,519)" width="41" height="10" fill="url(#rdb)"/>
<rect transform="translate(1739,519)" width="41" height="10" fill="url(#rdb)"/>
<rect transform="translate(1822,519)" width="44" height="10" fill="url(#rdb)"/>
<rect transform="translate(1904,519)" width="43" height="10" fill="url(#rdb)"/>
<rect transform="translate(1574,155)" width="10" height="43" fill="url(#rdl)"/>
<rect transform="translate(1574,237)" width="10" height="42" fill="url(#rdl)"/>
<rect transform="translate(1574,319)" width="10" height="42" fill="url(#rdl)"/>
<rect transform="translate(1574,401)" width="10" height="42" fill="url(#rdl)"/>
<rect transform="translate(1574,483)" width="10" height="36" fill="url(#rdl)"/>
<rect transform="translate(1959,149)" width="10" height="23" fill="url(#rdr)"/>
<rect transform="translate(1959,211)" width="10" height="43" fill="url(#rdr)"/>
<rect transform="translate(1959,293)" width="10" height="43" fill="url(#rdr)"/>
<rect transform="translate(1959,375)" width="10" height="43" fill="url(#rdr)"/>
<rect transform="translate(1959,457)" width="10" height="43" fill="url(#rdr)"/>
<rect x="275" y="1337.15" width="9" height="6" fill="#000"/>
<rect x="275" y="1277.9" width="20" height="6" fill="#000"/>
<rect x="275" y="1218.65" width="9" height="6" fill="#000"/>
<rect x="275" y="1159.4" width="20" height="6" fill="#000"/>
<rect x="275" y="1100.15" width="9" height="6" fill="#000"/>
<rect x="275" y="1040.9" width="20" height="6" fill="#000"/>
<rect x="275" y="981.65" width="9" height="6" fill="#000"/>
<rect x="275" y="922.4" width="20" height="6" fill="#000"/>
<rect x="275" y="863.15" width="9" height="6" fill="#000"/>
<rect x="275" y="803.9" width="20" height="6" fill="#000"/>
<rect x="275" y="744.65" width="9" height="6" fill="#000"/>
<rect x="275" y="685.4" width="20" height="6" fill="#000"/>
<rect x="275" y="626.15" width="9" height="6" fill="#000"/>
<rect x="275" y="566.9" width="20" height="6" fill="#000"/>
<rect x="275" y="507.65" width="9" height="6" fill="#000"/>
<rect x="275" y="448.4" width="20" height="6" fill="#000"/>
<rect x="275" y="389.15" width="9" height="6" fill="#000"/>
<rect x="275" y="329.9" width="20" height="6" fill="#000"/>
<rect x="275" y="270.65" width="9" height="6" fill="#000"/>
<rect x="275" y="211.4" width="20" height="6" fill="#000"/>
<rect x="275" y="152.15" width="9" height="6" fill="#000"/>
<rect x="275" y="92.9" width="20" height="6" fill="#000"/>
<rect x="275" y="33.65" width="9" height="6" fill="#000"/>
<rect x="569.3" y="1377.2" width="6.6" height="20" fill="#000"/>
<rect x="869.6" y="1377.2" width="6.6" height="20" fill="#000"/>
<rect x="1169.9" y="1377.2" width="6.6" height="20" fill="#000"/>
<rect x="1470.2" y="1377.2" width="6.6" height="20" fill="#000"/>
<rect x="1770.5" y="1377.2" width="6.6" height="20" fill="#000"/>
<rect x="492.13" y="1388.2" width="6" height="9" fill="#000"/>
<rect x="792.43" y="1388.2" width="6" height="9" fill="#000"/>
<rect x="1092.73" y="1388.2" width="6" height="9" fill="#000"/>
<rect x="1393.03" y="1388.2" width="6" height="9" fill="#000"/>
<rect x="1693.33" y="1388.2" width="6" height="9" fill="#000"/>
<rect x="2042" y="1388.2" width="6" height="9" fill="#000"/>
<rect x="269" y="22" width="1837" height="6" fill="#000"/>
<rect x="269" y="1396" width="1837" height="6.9" fill="#000"/>
<rect x="269" y="22" width="6" height="1380.9" fill="#000"/>
<rect x="2100" y="22" width="6" height="1380.9" fill="#000"/>
<text transform="translate(248.6,1420.3) scale(1,1.04)" font-size="70" text-anchor="end">0</text>
<text transform="translate(248.6,1301.8) scale(1,1.04)" font-size="70" text-anchor="end">50</text>
<text transform="translate(248.6,1183.3) scale(1,1.04)" font-size="70" text-anchor="end">100</text>
<text transform="translate(248.6,1064.8) scale(1,1.04)" font-size="70" text-anchor="end">150</text>
<text transform="translate(248.6,946.3) scale(1,1.04)" font-size="70" text-anchor="end">200</text>
<text transform="translate(248.6,827.8) scale(1,1.04)" font-size="70" text-anchor="end">250</text>
<text transform="translate(248.6,709.3) scale(1,1.04)" font-size="70" text-anchor="end">300</text>
<text transform="translate(248.6,590.8) scale(1,1.04)" font-size="70" text-anchor="end">350</text>
<text transform="translate(248.6,472.3) scale(1,1.04)" font-size="70" text-anchor="end">400</text>
<text transform="translate(248.6,353.8) scale(1,1.04)" font-size="70" text-anchor="end">450</text>
<text transform="translate(248.6,235.3) scale(1,1.04)" font-size="70" text-anchor="end">500</text>
<text transform="translate(248.6,116.8) scale(1,1.04)" font-size="70" text-anchor="end">550</text>
<text transform="translate(272.5,1479.2) scale(1,1.04)" font-size="69.5" text-anchor="middle">0.01</text>
<text transform="translate(572.8,1479.2) scale(1,1.04)" font-size="69.5" text-anchor="middle">0.1</text>
<text transform="translate(873.1,1479.2) scale(1,1.04)" font-size="69.5" text-anchor="middle">1</text>
<text transform="translate(1173.4,1479.2) scale(1,1.04)" font-size="69.5" text-anchor="middle">10</text>
<text transform="translate(1473.7,1479.2) scale(1,1.04)" font-size="69.5" text-anchor="middle">100</text>
<text transform="translate(1774,1479.2) scale(1,1.04)" font-size="69.5" text-anchor="middle">1000</text>
<text transform="translate(745.2,81.8) scale(1,1.01)" font-size="70.6" text-anchor="middle">Micropore</text>
<text transform="translate(1349.7,80.8) scale(1,1.01)" font-size="70.6" text-anchor="middle">Mesopore</text>
<text transform="translate(1811.5,81.8) scale(1,1.01)" font-size="70.6" text-anchor="middle">Macropore</text>
<text transform="translate(0,1587) scale(1,1.03)" font-size="76"><tspan x="1056.8" y="0" font-style="italic">T</tspan><tspan x="1096.8" y="20.5" font-style="italic" font-size="51">2</tspan><tspan x="1121.7" y="0"> (ms)</tspan></text>
<text transform="translate(78.6,713.9) rotate(-90) scale(1,1.05)" font-size="75.6" text-anchor="middle">Signal intensity</text>
<rect x="606.2" y="143.2" width="637.3" height="473.8" fill="#fff"/>
<rect x="606.2" y="143.2" width="637.3" height="44.1" fill="#D3D3D3"/>
<g clip-path="url(#ca)">
<path d="M409.25,1538.2C423.82,1538.14 438.38,1537.97 452.95,1538.2C467.52,1538.43 482.08,1539.06 496.65,1538.2C511.22,1537.34 525.78,1534.99 540.35,1538.2C554.92,1541.41 569.48,1550.18 584.05,1538.2C598.62,1526.22 613.18,1493.48 627.75,1453.45C642.32,1413.42 656.88,1366.11 671.45,1316.06C686.02,1266.01 700.58,1213.24 715.15,1157.88C729.72,1102.52 744.28,1044.57 758.85,986.01C773.42,927.44 787.98,868.25 802.55,810.19C817.12,752.13 831.68,695.2 846.25,641.48C860.82,587.75 875.38,537.23 889.95,492.77C904.52,448.31 919.08,409.9 933.65,380.38C948.22,350.87 962.78,330.23 977.35,320.64C991.92,311.04 1006.48,312.48 1021.05,327.22C1035.62,341.96 1050.18,370 1064.75,414.34C1079.32,458.67 1093.88,519.3 1108.45,593.31C1123.02,667.32 1137.58,754.72 1152.15,867.3C1166.72,979.89 1181.28,1117.67 1195.85,1246.31C1210.42,1374.95 1224.98,1494.46 1239.55,1538.2C1254.12,1581.94 1268.68,1549.92 1283.25,1538.2C1297.82,1526.48 1312.38,1535.06 1326.95,1538.2C1341.52,1541.34 1356.08,1539.04 1370.65,1538.2C1385.22,1537.36 1399.78,1537.97 1414.35,1538.2C1428.92,1538.43 1443.48,1538.26 1458.05,1538.2" fill="none" stroke="#505050" stroke-width="5.6" stroke-linejoin="round" stroke-linecap="round"/>
<g fill="#505050"><circle cx="409.25" cy="1538.2" r="6.4"/><circle cx="452.95" cy="1538.2" r="6.4"/><circle cx="496.65" cy="1538.2" r="6.4"/><circle cx="540.35" cy="1538.2" r="6.4"/><circle cx="584.05" cy="1538.2" r="6.4"/><circle cx="627.75" cy="1453.45" r="6.4"/><circle cx="671.45" cy="1316.06" r="6.4"/><circle cx="715.15" cy="1157.88" r="6.4"/><circle cx="758.85" cy="986.01" r="6.4"/><circle cx="802.55" cy="810.19" r="6.4"/><circle cx="846.25" cy="641.48" r="6.4"/><circle cx="889.95" cy="492.77" r="6.4"/><circle cx="933.65" cy="380.38" r="6.4"/><circle cx="977.35" cy="320.64" r="6.4"/><circle cx="1021.05" cy="327.22" r="6.4"/><circle cx="1064.75" cy="414.34" r="6.4"/><circle cx="1108.45" cy="593.31" r="6.4"/><circle cx="1152.15" cy="867.3" r="6.4"/><circle cx="1195.85" cy="1246.31" r="6.4"/><circle cx="1239.55" cy="1538.2" r="6.4"/><circle cx="1283.25" cy="1538.2" r="6.4"/><circle cx="1326.95" cy="1538.2" r="6.4"/><circle cx="1370.65" cy="1538.2" r="6.4"/><circle cx="1414.35" cy="1538.2" r="6.4"/><circle cx="1458.05" cy="1538.2" r="6.4"/></g>
<path d="M409.25,1538.2C423.82,1538.11 438.38,1537.85 452.95,1538.2C467.52,1538.55 482.08,1539.5 496.65,1538.2C511.22,1536.9 525.78,1533.35 540.35,1538.2C554.92,1543.05 569.48,1556.28 584.05,1538.2C598.62,1520.12 613.18,1470.72 627.75,1415.02C642.32,1359.33 656.88,1297.34 671.45,1233.94C686.02,1170.54 700.58,1105.73 715.15,1040.23C729.72,974.72 744.28,908.54 758.85,843.35C773.42,778.17 787.98,713.99 802.55,653.85C817.12,593.71 831.68,537.61 846.25,487.51C860.82,437.4 875.38,393.3 889.95,357.75C904.52,322.19 919.08,295.19 933.65,279.31C948.22,263.44 962.78,258.7 977.35,268C991.92,277.29 1006.48,300.63 1021.05,336.96C1035.62,373.28 1050.18,422.61 1064.75,490.4C1079.32,558.19 1093.88,644.46 1108.45,737.28C1123.02,830.11 1137.58,929.5 1152.15,1081.81C1166.72,1234.12 1181.28,1439.35 1195.85,1518.99C1210.42,1598.63 1224.98,1552.68 1239.55,1536.36C1254.12,1520.03 1268.68,1533.33 1283.25,1538.2C1297.82,1543.07 1312.38,1539.5 1326.95,1538.2C1341.52,1536.9 1356.08,1537.85 1370.65,1538.2C1385.22,1538.55 1399.78,1538.29 1414.35,1538.2C1428.92,1538.11 1443.48,1538.17 1458.05,1538.2" fill="none" stroke="#FF3D3D" stroke-width="5.6" stroke-linejoin="round" stroke-linecap="round"/>
<g fill="#FF3D3D"><circle cx="409.25" cy="1538.2" r="6.4"/><circle cx="452.95" cy="1538.2" r="6.4"/><circle cx="496.65" cy="1538.2" r="6.4"/><circle cx="540.35" cy="1538.2" r="6.4"/><circle cx="584.05" cy="1538.2" r="6.4"/><circle cx="627.75" cy="1415.02" r="6.4"/><circle cx="671.45" cy="1233.94" r="6.4"/><circle cx="715.15" cy="1040.23" r="6.4"/><circle cx="758.85" cy="843.35" r="6.4"/><circle cx="802.55" cy="653.85" r="6.4"/><circle cx="846.25" cy="487.51" r="6.4"/><circle cx="889.95" cy="357.75" r="6.4"/><circle cx="933.65" cy="279.31" r="6.4"/><circle cx="977.35" cy="268" r="6.4"/><circle cx="1021.05" cy="336.96" r="6.4"/><circle cx="1064.75" cy="490.4" r="6.4"/><circle cx="1108.45" cy="737.28" r="6.4"/><circle cx="1152.15" cy="1081.81" r="6.4"/><circle cx="1195.85" cy="1518.99" r="6.4"/><circle cx="1239.55" cy="1536.36" r="6.4"/><circle cx="1283.25" cy="1538.2" r="6.4"/><circle cx="1326.95" cy="1538.2" r="6.4"/><circle cx="1370.65" cy="1538.2" r="6.4"/><circle cx="1414.35" cy="1538.2" r="6.4"/><circle cx="1458.05" cy="1538.2" r="6.4"/></g>
<path d="M409.25,1538.2C423.82,1538.06 438.38,1537.7 452.95,1538.2C467.52,1538.7 482.08,1540.08 496.65,1538.2C511.22,1536.32 525.78,1531.2 540.35,1538.2C554.92,1545.2 569.48,1564.33 584.05,1535.57C598.62,1506.8 613.18,1430.14 627.75,1361.86C642.32,1293.57 656.88,1233.66 671.45,1168.4C686.02,1103.15 700.58,1032.54 715.15,963.11C729.72,893.68 744.28,825.43 758.85,759.13C773.42,692.83 787.98,628.48 802.55,568.31C817.12,508.13 831.68,452.12 846.25,404.07C860.82,356.02 875.38,315.92 889.95,285.1C904.52,254.29 919.08,232.75 933.65,224.04C948.22,215.33 962.78,219.45 977.35,237.2C991.92,254.96 1006.48,286.36 1021.05,333.8C1035.62,381.24 1050.18,444.72 1064.75,524.09C1079.32,603.46 1093.88,698.73 1108.45,811.24C1123.02,923.76 1137.58,1053.52 1152.15,1193.41C1166.72,1333.29 1181.28,1483.3 1195.85,1538.2C1210.42,1593.1 1224.98,1552.91 1239.55,1538.2C1254.12,1523.49 1268.68,1534.26 1283.25,1538.2C1297.82,1542.14 1312.38,1539.26 1326.95,1538.2C1341.52,1537.14 1356.08,1537.92 1370.65,1538.2C1385.22,1538.48 1399.78,1538.28 1414.35,1538.2C1428.92,1538.12 1443.48,1538.18 1458.05,1538.2" fill="none" stroke="#9900FF" stroke-width="5.6" stroke-linejoin="round" stroke-linecap="round"/>
<g fill="#9900FF"><circle cx="409.25" cy="1538.2" r="6.4"/><circle cx="452.95" cy="1538.2" r="6.4"/><circle cx="496.65" cy="1538.2" r="6.4"/><circle cx="540.35" cy="1538.2" r="6.4"/><circle cx="584.05" cy="1535.57" r="6.4"/><circle cx="627.75" cy="1361.86" r="6.4"/><circle cx="671.45" cy="1168.4" r="6.4"/><circle cx="715.15" cy="963.11" r="6.4"/><circle cx="758.85" cy="759.13" r="6.4"/><circle cx="802.55" cy="568.31" r="6.4"/><circle cx="846.25" cy="404.07" r="6.4"/><circle cx="889.95" cy="285.1" r="6.4"/><circle cx="933.65" cy="224.04" r="6.4"/><circle cx="977.35" cy="237.2" r="6.4"/><circle cx="1021.05" cy="333.8" r="6.4"/><circle cx="1064.75" cy="524.09" r="6.4"/><circle cx="1108.45" cy="811.24" r="6.4"/><circle cx="1152.15" cy="1193.41" r="6.4"/><circle cx="1195.85" cy="1538.2" r="6.4"/><circle cx="1239.55" cy="1538.2" r="6.4"/><circle cx="1283.25" cy="1538.2" r="6.4"/><circle cx="1326.95" cy="1538.2" r="6.4"/><circle cx="1370.65" cy="1538.2" r="6.4"/><circle cx="1414.35" cy="1538.2" r="6.4"/><circle cx="1458.05" cy="1538.2" r="6.4"/></g>
<path d="M409.25,1538.2C423.82,1538.38 438.38,1538.86 452.95,1538.2C467.52,1537.54 482.08,1535.72 496.65,1538.2C511.22,1540.68 525.78,1547.47 540.35,1536.88C554.92,1526.3 569.48,1498.34 584.05,1453.19C598.62,1408.03 613.18,1345.68 627.75,1284.48C642.32,1223.27 656.88,1163.2 671.45,1101.02C686.02,1038.85 700.58,974.56 715.15,910.99C729.72,847.43 744.28,784.6 758.85,724.65C773.42,664.7 787.98,607.62 802.55,554.88C817.12,502.15 831.68,453.76 846.25,412.49C860.82,371.23 875.38,337.09 889.95,312.21C904.52,287.34 919.08,271.72 933.65,267.21C948.22,262.69 962.78,269.28 977.35,288.79C991.92,308.3 1006.48,340.73 1021.05,387.23C1035.62,433.72 1050.18,494.29 1064.75,569.89C1079.32,645.49 1093.88,736.12 1108.45,840.46C1123.02,944.79 1137.58,1062.82 1152.15,1197.36C1166.72,1331.89 1181.28,1482.92 1195.85,1538.2C1210.42,1593.48 1224.98,1553.01 1239.55,1538.2C1254.12,1523.39 1268.68,1534.23 1283.25,1538.2C1297.82,1542.17 1312.38,1539.26 1326.95,1538.2C1341.52,1537.14 1356.08,1537.92 1370.65,1538.2C1385.22,1538.48 1399.78,1538.28 1414.35,1538.2C1428.92,1538.12 1443.48,1538.18 1458.05,1538.2" fill="none" stroke="#40A800" stroke-width="5.6" stroke-linejoin="round" stroke-linecap="round"/>
<g fill="#40A800"><circle cx="409.25" cy="1538.2" r="6.4"/><circle cx="452.95" cy="1538.2" r="6.4"/><circle cx="496.65" cy="1538.2" r="6.4"/><circle cx="540.35" cy="1536.88" r="6.4"/><circle cx="584.05" cy="1453.19" r="6.4"/><circle cx="627.75" cy="1284.48" r="6.4"/><circle cx="671.45" cy="1101.02" r="6.4"/><circle cx="715.15" cy="910.99" r="6.4"/><circle cx="758.85" cy="724.65" r="6.4"/><circle cx="802.55" cy="554.88" r="6.4"/><circle cx="846.25" cy="412.49" r="6.4"/><circle cx="889.95" cy="312.21" r="6.4"/><circle cx="933.65" cy="267.21" r="6.4"/><circle cx="977.35" cy="288.79" r="6.4"/><circle cx="1021.05" cy="387.23" r="6.4"/><circle cx="1064.75" cy="569.89" r="6.4"/><circle cx="1108.45" cy="840.46" r="6.4"/><circle cx="1152.15" cy="1197.36" r="6.4"/><circle cx="1195.85" cy="1538.2" r="6.4"/><circle cx="1239.55" cy="1538.2" r="6.4"/><circle cx="1283.25" cy="1538.2" r="6.4"/><circle cx="1326.95" cy="1538.2" r="6.4"/><circle cx="1370.65" cy="1538.2" r="6.4"/><circle cx="1414.35" cy="1538.2" r="6.4"/><circle cx="1458.05" cy="1538.2" r="6.4"/></g>
</g>
<line x1="938.4" y1="266" x2="936.4" y2="616" stroke="#000" stroke-width="3" stroke-dasharray="10.9 9.2"/>
<line x1="948.4" y1="220" x2="948.4" y2="616" stroke="#000" stroke-width="3" stroke-dasharray="10.9 9.2"/>
<line x1="963.3" y1="266" x2="965.2" y2="616" stroke="#000" stroke-width="3" stroke-dasharray="10.9 9.2"/>
<line x1="997.4" y1="315" x2="998.6" y2="612" stroke="#000" stroke-width="3" stroke-dasharray="10.9 9.2"/>
<line x1="1020" y1="499.6" x2="920" y2="499.6" stroke="#004040" stroke-width="3"/>
<polygon points="908.4,499.6 922.6,495.8 922.6,503.4" fill="#004040"/>
<rect x="608" y="220.3" width="6" height="3.8" fill="#000"/>
<rect x="608" y="351.9" width="6" height="3.8" fill="#000"/>
<rect x="608" y="483.5" width="6" height="3.8" fill="#000"/>
<rect x="608" y="286.4" width="3" height="3.2" fill="#000"/>
<rect x="608" y="418" width="3" height="3.2" fill="#000"/>
<rect x="608" y="549.6" width="3" height="3.2" fill="#000"/>
<rect x="954.1" y="611.6" width="2.8" height="5.4" fill="#000"/>
<line x1="604.3" y1="187.5" x2="1245.1" y2="187.5" stroke="#000" stroke-width="2.6"/>
<line x1="606.2" y1="141.5" x2="606.2" y2="618.8" stroke="#000" stroke-width="3.9"/>
<line x1="1243.5" y1="141.5" x2="1243.5" y2="618.8" stroke="#000" stroke-width="3.2"/>
<line x1="604.3" y1="143.2" x2="1245.1" y2="143.2" stroke="#000" stroke-width="3.4"/>
<line x1="604.3" y1="617" x2="1245.1" y2="617" stroke="#000" stroke-width="3.5"/>
<text transform="translate(598.2,230.3) scale(1,1.05)" font-size="26.3" text-anchor="end">500</text>
<text transform="translate(598.2,361.9) scale(1,1.05)" font-size="26.3" text-anchor="end">450</text>
<text transform="translate(598.2,493.5) scale(1,1.05)" font-size="26.3" text-anchor="end">400</text>
<text transform="translate(598.2,625.1) scale(1,1.05)" font-size="26.3" text-anchor="end">350</text>
<text transform="translate(955.6,644.2) scale(1,1.05)" font-size="25" text-anchor="middle">1000</text>
<text x="924.5" y="177" font-size="25.8" text-anchor="middle">Macropore</text>
<text x="891" y="685.4" font-size="26"><tspan font-style="italic">T</tspan><tspan font-style="italic" font-size="16" dy="7">2</tspan><tspan dy="-7">(ms)</tspan></text>
<text transform="translate(538,383.1) rotate(-90) scale(1,1.08)" font-size="25.55" text-anchor="middle">Signal intensity</text>
<line x1="647.42" y1="241.4" x2="697.58" y2="241.4" stroke="#737373" stroke-width="4.84" stroke-linecap="round"/>
<circle cx="672.5" cy="241.4" r="6.4" fill="#505050"/>
<text x="703.4" y="249.4" font-size="25.65" text-anchor="start">initial state</text>
<line x1="647.95" y1="273.1" x2="697.05" y2="273.1" stroke="#FF3D3D" stroke-width="5.9" stroke-linecap="round"/>
<circle cx="672.5" cy="273.1" r="6.4" fill="#FF3D3D"/>
<text x="703.4" y="281.1" font-size="25.65" text-anchor="start">2MPa loading</text>
<line x1="647.95" y1="305" x2="697.05" y2="305" stroke="#9900FF" stroke-width="5.9" stroke-linecap="round"/>
<circle cx="672.5" cy="305" r="6.4" fill="#9900FF"/>
<text x="703.4" y="313" font-size="25.65" text-anchor="start">3MPa loadin</text>
<line x1="647.95" y1="336.6" x2="697.05" y2="336.6" stroke="#40A800" stroke-width="5.9" stroke-linecap="round"/>
<circle cx="672.5" cy="336.6" r="6.4" fill="#40A800"/>
<text x="703.4" y="344.6" font-size="25.65" text-anchor="start">4MPa loading</text>
<line x1="1053.6" y1="650.3" x2="1053.6" y2="697.5" stroke="#000" stroke-width="1"/>
<rect x="594.1" y="738.5" width="655.9" height="458.5" fill="#fff"/>
<rect x="594.1" y="738.5" width="655.9" height="43.5" fill="#D3D3D3"/>
<line x1="1052.9" y1="783" x2="1052.9" y2="1197" stroke="#A0A0A0" stroke-width="2.3"/>
<g clip-path="url(#cb)">
<path d="M594.1,1197C597.19,1197 600.27,1197 603.36,1197C606.45,1197 609.53,1197 612.62,1197C615.71,1197 618.79,1197 621.88,1197C624.97,1197 628.06,1197 631.14,1197C634.23,1197 637.32,1197 640.4,1197C643.49,1197 646.58,1197 649.66,1197C652.75,1197 655.84,1197 658.92,1197C662.01,1197 665.1,1197 668.18,1197C671.27,1197 674.36,1197 677.45,1197C680.53,1197 683.62,1197 686.71,1197C689.79,1197 692.88,1197 695.97,1197C699.05,1197 702.14,1197 705.23,1197C708.31,1197 711.4,1197 714.49,1197C717.57,1197 720.66,1197 723.75,1197C726.84,1197 729.92,1197 733.01,1197C736.1,1197 739.18,1197.01 742.27,1197C745.36,1196.99 748.44,1196.98 751.53,1197C754.62,1197.02 757.7,1197.09 760.79,1197C763.88,1196.91 766.96,1196.67 770.05,1196.45C773.14,1196.23 776.23,1196.02 779.31,1195.89C782.4,1195.77 785.49,1195.71 788.57,1195.34C791.66,1194.97 794.75,1194.29 797.83,1193.87C800.92,1193.45 804.01,1193.29 807.09,1192.95C810.18,1192.61 813.27,1192.08 816.35,1191.29C819.44,1190.5 822.53,1189.44 825.62,1188.16C828.7,1186.88 831.79,1185.39 834.88,1183.92C837.96,1182.46 841.05,1181.01 844.14,1179.13C847.22,1177.25 850.31,1174.93 853.4,1172.5C856.48,1170.07 859.57,1167.54 862.66,1164.77C865.74,1161.99 868.83,1158.96 871.92,1155.92C875.01,1152.89 878.09,1149.85 881.18,1146.53C884.27,1143.21 887.35,1139.6 890.44,1135.66C893.53,1131.72 896.61,1127.44 899.7,1123.32C902.79,1119.2 905.87,1115.23 908.96,1111.53C912.05,1107.83 915.13,1104.4 918.22,1101.22C921.31,1098.04 924.39,1095.11 927.48,1092.01C930.57,1088.9 933.66,1085.61 936.74,1082.8C939.83,1079.98 942.92,1077.65 946,1075.98C949.09,1074.31 952.18,1073.29 955.26,1072.66C958.35,1072.04 961.44,1071.8 964.52,1071.74C967.61,1071.69 970.7,1071.83 973.78,1073.22C976.87,1074.6 979.96,1077.24 983.05,1080.59C986.13,1083.93 989.22,1087.99 992.31,1092.74C995.39,1097.49 998.48,1102.94 1001.57,1108.77C1004.65,1114.6 1007.74,1120.81 1010.83,1128.85C1013.91,1136.88 1017,1146.74 1020.09,1155.56C1023.17,1164.37 1026.26,1172.13 1029.35,1179.13C1032.44,1186.14 1035.52,1192.38 1038.61,1195.16C1041.7,1197.93 1044.78,1197.24 1047.87,1197C1050.96,1196.76 1054.04,1196.98 1057.13,1197C1060.22,1197.02 1063.3,1196.84 1066.39,1197C1069.48,1197.16 1072.56,1197.66 1075.65,1197C1078.74,1196.34 1081.83,1194.54 1084.91,1195.16C1088,1195.78 1091.09,1198.83 1094.17,1193.32C1097.26,1187.8 1100.35,1173.73 1103.43,1158.5C1106.52,1143.27 1109.61,1126.89 1112.69,1109.69C1115.78,1092.49 1118.87,1074.47 1121.95,1056.27C1125.04,1038.07 1128.13,1019.69 1131.22,1000.83C1134.3,981.97 1137.39,962.62 1140.48,942.25C1143.56,921.88 1146.65,900.47 1149.74,882.2C1152.82,863.93 1155.91,848.79 1159,837.26C1162.08,825.72 1165.17,817.8 1168.26,813.86C1171.34,809.93 1174.43,809.98 1177.52,813.86C1180.61,817.75 1183.69,825.45 1186.78,838.18C1189.87,850.9 1192.95,868.64 1196.04,888.83C1199.13,909.02 1202.21,931.67 1205.3,955.33C1208.39,978.99 1211.47,1003.68 1214.56,1029.01C1217.65,1054.34 1220.73,1080.32 1223.82,1108.4C1226.91,1136.48 1229.99,1166.66 1233.08,1181.9C1236.17,1197.14 1239.26,1197.44 1242.34,1197C1245.43,1196.56 1248.52,1195.39 1251.6,1197C1254.69,1198.61 1257.78,1203.02 1260.86,1197C1263.95,1190.98 1267.04,1174.53 1270.12,1197C1273.21,1219.47 1276.3,1280.87 1279.38,1197" fill="none" stroke="#505050" stroke-width="5.8" stroke-linejoin="round" stroke-linecap="round"/>
<g fill="#505050"><circle cx="594.1" cy="1197" r="5.6"/><circle cx="603.36" cy="1197" r="5.6"/><circle cx="612.62" cy="1197" r="5.6"/><circle cx="621.88" cy="1197" r="5.6"/><circle cx="631.14" cy="1197" r="5.6"/><circle cx="640.4" cy="1197" r="5.6"/><circle cx="649.66" cy="1197" r="5.6"/><circle cx="658.92" cy="1197" r="5.6"/><circle cx="668.18" cy="1197" r="5.6"/><circle cx="677.45" cy="1197" r="5.6"/><circle cx="686.71" cy="1197" r="5.6"/><circle cx="695.97" cy="1197" r="5.6"/><circle cx="705.23" cy="1197" r="5.6"/><circle cx="714.49" cy="1197" r="5.6"/><circle cx="723.75" cy="1197" r="5.6"/><circle cx="733.01" cy="1197" r="5.6"/><circle cx="742.27" cy="1197" r="5.6"/><circle cx="751.53" cy="1197" r="5.6"/><circle cx="760.79" cy="1197" r="5.6"/><circle cx="770.05" cy="1196.45" r="5.6"/><circle cx="779.31" cy="1195.89" r="5.6"/><circle cx="788.57" cy="1195.34" r="5.6"/><circle cx="797.83" cy="1193.87" r="5.6"/><circle cx="807.09" cy="1192.95" r="5.6"/><circle cx="816.35" cy="1191.29" r="5.6"/><circle cx="825.62" cy="1188.16" r="5.6"/><circle cx="834.88" cy="1183.92" r="5.6"/><circle cx="844.14" cy="1179.13" r="5.6"/><circle cx="853.4" cy="1172.5" r="5.6"/><circle cx="862.66" cy="1164.77" r="5.6"/><circle cx="871.92" cy="1155.92" r="5.6"/><circle cx="881.18" cy="1146.53" r="5.6"/><circle cx="890.44" cy="1135.66" r="5.6"/><circle cx="899.7" cy="1123.32" r="5.6"/><circle cx="908.96" cy="1111.53" r="5.6"/><circle cx="918.22" cy="1101.22" r="5.6"/><circle cx="927.48" cy="1092.01" r="5.6"/><circle cx="936.74" cy="1082.8" r="5.6"/><circle cx="946" cy="1075.98" r="5.6"/><circle cx="955.26" cy="1072.66" r="5.6"/><circle cx="964.52" cy="1071.74" r="5.6"/><circle cx="973.78" cy="1073.22" r="5.6"/><circle cx="983.05" cy="1080.59" r="5.6"/><circle cx="992.31" cy="1092.74" r="5.6"/><circle cx="1001.57" cy="1108.77" r="5.6"/><circle cx="1010.83" cy="1128.85" r="5.6"/><circle cx="1020.09" cy="1155.56" r="5.6"/><circle cx="1029.35" cy="1179.13" r="5.6"/><circle cx="1038.61" cy="1195.16" r="5.6"/><circle cx="1047.87" cy="1197" r="5.6"/><circle cx="1057.13" cy="1197" r="5.6"/><circle cx="1066.39" cy="1197" r="5.6"/><circle cx="1075.65" cy="1197" r="5.6"/><circle cx="1084.91" cy="1195.16" r="5.6"/><circle cx="1094.17" cy="1193.32" r="5.6"/><circle cx="1103.43" cy="1158.5" r="5.6"/><circle cx="1112.69" cy="1109.69" r="5.6"/><circle cx="1121.95" cy="1056.27" r="5.6"/><circle cx="1131.22" cy="1000.83" r="5.6"/><circle cx="1140.48" cy="942.25" r="5.6"/><circle cx="1149.74" cy="882.2" r="5.6"/><circle cx="1159" cy="837.26" r="5.6"/><circle cx="1168.26" cy="813.86" r="5.6"/><circle cx="1177.52" cy="813.86" r="5.6"/><circle cx="1186.78" cy="838.18" r="5.6"/><circle cx="1196.04" cy="888.83" r="5.6"/><circle cx="1205.3" cy="955.33" r="5.6"/><circle cx="1214.56" cy="1029.01" r="5.6"/><circle cx="1223.82" cy="1108.4" r="5.6"/><circle cx="1233.08" cy="1181.9" r="5.6"/><circle cx="1242.34" cy="1197" r="5.6"/><circle cx="1251.6" cy="1197" r="5.6"/><circle cx="1260.86" cy="1197" r="5.6"/><circle cx="1270.12" cy="1197" r="5.6"/><circle cx="1279.38" cy="1197" r="5.6"/></g>
<path d="M594.1,1197C597.19,1197 600.27,1197 603.36,1197C606.45,1197 609.53,1197 612.62,1197C615.71,1197 618.79,1197 621.88,1197C624.97,1197 628.06,1197 631.14,1197C634.23,1197 637.32,1197 640.4,1197C643.49,1197 646.58,1197 649.66,1197C652.75,1197 655.84,1197 658.92,1197C662.01,1197 665.1,1197 668.18,1197C671.27,1197 674.36,1197 677.45,1197C680.53,1197 683.62,1197 686.71,1197C689.79,1197 692.88,1197 695.97,1197C699.05,1197 702.14,1197 705.23,1197C708.31,1197 711.4,1197 714.49,1197C717.57,1197 720.66,1197 723.75,1197C726.84,1197 729.92,1197 733.01,1197C736.1,1197 739.18,1196.99 742.27,1197C745.36,1197.01 748.44,1197.03 751.53,1197C754.62,1196.97 757.7,1196.89 760.79,1196.82C763.88,1196.74 766.96,1196.69 770.05,1196.45C773.14,1196.21 776.23,1195.79 779.31,1195.53C782.4,1195.26 785.49,1195.16 788.57,1194.61C791.66,1194.05 794.75,1193.06 797.83,1192.21C800.92,1191.36 804.01,1190.67 807.09,1189.63C810.18,1188.6 813.27,1187.22 816.35,1185.58C819.44,1183.94 822.53,1182.04 825.62,1179.87C828.7,1177.69 831.79,1175.24 834.88,1172.5C837.96,1169.76 841.05,1166.73 844.14,1163.29C847.22,1159.85 850.31,1155.99 853.4,1151.87C856.48,1147.75 859.57,1143.38 862.66,1138.42C865.74,1133.47 868.83,1127.94 871.92,1122.77C875.01,1117.59 878.09,1112.77 881.18,1107.85C884.27,1102.93 887.35,1097.91 890.44,1093.85C893.53,1089.79 896.61,1086.69 899.7,1082.8C902.79,1078.9 905.87,1074.2 908.96,1070.27C912.05,1066.34 915.13,1063.17 918.22,1060.88C921.31,1058.59 924.39,1057.18 927.48,1056.27C930.57,1055.36 933.66,1054.95 936.74,1055.35C939.83,1055.75 942.92,1056.97 946,1059.96C949.09,1062.94 952.18,1067.68 955.26,1072.11C958.35,1076.55 961.44,1080.68 964.52,1086.48C967.61,1092.28 970.7,1099.73 973.78,1107.85C976.87,1115.96 979.96,1124.74 983.05,1134C986.13,1143.27 989.22,1153.02 992.31,1163.11C995.39,1173.19 998.48,1183.61 1001.57,1189.45C1004.65,1195.28 1007.74,1196.54 1010.83,1197C1013.91,1197.46 1017,1197.12 1020.09,1197C1023.17,1196.88 1026.26,1196.96 1029.35,1197C1032.44,1197.04 1035.52,1197.02 1038.61,1197C1041.7,1196.98 1044.78,1196.96 1047.87,1197C1050.96,1197.04 1054.04,1197.13 1057.13,1197C1060.22,1196.87 1063.3,1196.52 1066.39,1197C1069.48,1197.48 1072.56,1198.81 1075.65,1193.32C1078.74,1187.82 1081.83,1175.52 1084.91,1160.16C1088,1144.8 1091.09,1126.39 1094.17,1108.58C1097.26,1090.78 1100.35,1073.59 1103.43,1051.48C1106.52,1029.37 1109.61,1002.34 1112.69,983.33C1115.78,964.31 1118.87,953.31 1121.95,940.96C1125.04,928.62 1128.13,914.93 1131.22,904.12C1134.3,893.31 1137.39,885.38 1140.48,880.18C1143.56,874.98 1146.65,872.51 1149.74,873.73C1152.82,874.95 1155.91,879.85 1159,891.23C1162.08,902.61 1165.17,920.46 1168.26,939.12C1171.34,957.78 1174.43,977.26 1177.52,996.22C1180.61,1015.19 1183.69,1033.64 1186.78,1052.4C1189.87,1071.17 1192.95,1090.24 1196.04,1109.69C1199.13,1129.14 1202.21,1148.96 1205.3,1163.11C1208.39,1177.25 1211.47,1185.71 1214.56,1190.55C1217.65,1195.39 1220.73,1196.61 1223.82,1197C1226.91,1197.39 1229.99,1196.94 1233.08,1197C1236.17,1197.06 1239.26,1197.62 1242.34,1197C1245.43,1196.38 1248.52,1194.57 1251.6,1197C1254.69,1199.43 1257.78,1206.08 1260.86,1197C1263.95,1187.92 1267.04,1163.09 1270.12,1197C1273.21,1230.91 1276.3,1323.55 1279.38,1197" fill="none" stroke="#FF3D3D" stroke-width="5.8" stroke-linejoin="round" stroke-linecap="round"/>
<g fill="#FF3D3D"><circle cx="594.1" cy="1197" r="5.6"/><circle cx="603.36" cy="1197" r="5.6"/><circle cx="612.62" cy="1197" r="5.6"/><circle cx="621.88" cy="1197" r="5.6"/><circle cx="631.14" cy="1197" r="5.6"/><circle cx="640.4" cy="1197" r="5.6"/><circle cx="649.66" cy="1197" r="5.6"/><circle cx="658.92" cy="1197" r="5.6"/><circle cx="668.18" cy="1197" r="5.6"/><circle cx="677.45" cy="1197" r="5.6"/><circle cx="686.71" cy="1197" r="5.6"/><circle cx="695.97" cy="1197" r="5.6"/><circle cx="705.23" cy="1197" r="5.6"/><circle cx="714.49" cy="1197" r="5.6"/><circle cx="723.75" cy="1197" r="5.6"/><circle cx="733.01" cy="1197" r="5.6"/><circle cx="742.27" cy="1197" r="5.6"/><circle cx="751.53" cy="1197" r="5.6"/><circle cx="760.79" cy="1196.82" r="5.6"/><circle cx="770.05" cy="1196.45" r="5.6"/><circle cx="779.31" cy="1195.53" r="5.6"/><circle cx="788.57" cy="1194.61" r="5.6"/><circle cx="797.83" cy="1192.21" r="5.6"/><circle cx="807.09" cy="1189.63" r="5.6"/><circle cx="816.35" cy="1185.58" r="5.6"/><circle cx="825.62" cy="1179.87" r="5.6"/><circle cx="834.88" cy="1172.5" r="5.6"/><circle cx="844.14" cy="1163.29" r="5.6"/><circle cx="853.4" cy="1151.87" r="5.6"/><circle cx="862.66" cy="1138.42" r="5.6"/><circle cx="871.92" cy="1122.77" r="5.6"/><circle cx="881.18" cy="1107.85" r="5.6"/><circle cx="890.44" cy="1093.85" r="5.6"/><circle cx="899.7" cy="1082.8" r="5.6"/><circle cx="908.96" cy="1070.27" r="5.6"/><circle cx="918.22" cy="1060.88" r="5.6"/><circle cx="927.48" cy="1056.27" r="5.6"/><circle cx="936.74" cy="1055.35" r="5.6"/><circle cx="946" cy="1059.96" r="5.6"/><circle cx="955.26" cy="1072.11" r="5.6"/><circle cx="964.52" cy="1086.48" r="5.6"/><circle cx="973.78" cy="1107.85" r="5.6"/><circle cx="983.05" cy="1134" r="5.6"/><circle cx="992.31" cy="1163.11" r="5.6"/><circle cx="1001.57" cy="1189.45" r="5.6"/><circle cx="1010.83" cy="1197" r="5.6"/><circle cx="1020.09" cy="1197" r="5.6"/><circle cx="1029.35" cy="1197" r="5.6"/><circle cx="1038.61" cy="1197" r="5.6"/><circle cx="1047.87" cy="1197" r="5.6"/><circle cx="1057.13" cy="1197" r="5.6"/><circle cx="1066.39" cy="1197" r="5.6"/><circle cx="1075.65" cy="1193.32" r="5.6"/><circle cx="1084.91" cy="1160.16" r="5.6"/><circle cx="1094.17" cy="1108.58" r="5.6"/><circle cx="1103.43" cy="1051.48" r="5.6"/><circle cx="1112.69" cy="983.33" r="5.6"/><circle cx="1121.95" cy="940.96" r="5.6"/><circle cx="1131.22" cy="904.12" r="5.6"/><circle cx="1140.48" cy="880.18" r="5.6"/><circle cx="1149.74" cy="873.73" r="5.6"/><circle cx="1159" cy="891.23" r="5.6"/><circle cx="1168.26" cy="939.12" r="5.6"/><circle cx="1177.52" cy="996.22" r="5.6"/><circle cx="1186.78" cy="1052.4" r="5.6"/><circle cx="1196.04" cy="1109.69" r="5.6"/><circle cx="1205.3" cy="1163.11" r="5.6"/><circle cx="1214.56" cy="1190.55" r="5.6"/><circle cx="1223.82" cy="1197" r="5.6"/><circle cx="1233.08" cy="1197" r="5.6"/><circle cx="1242.34" cy="1197" r="5.6"/><circle cx="1251.6" cy="1197" r="5.6"/><circle cx="1260.86" cy="1197" r="5.6"/><circle cx="1270.12" cy="1197" r="5.6"/><circle cx="1279.38" cy="1197" r="5.6"/></g>
<path d="M594.1,1197C597.19,1197 600.27,1197 603.36,1197C606.45,1197 609.53,1197 612.62,1197C615.71,1197 618.79,1197 621.88,1197C624.97,1197 628.06,1197 631.14,1197C634.23,1197 637.32,1197 640.4,1197C643.49,1197 646.58,1197 649.66,1197C652.75,1197 655.84,1197 658.92,1197C662.01,1197 665.1,1197 668.18,1197C671.27,1197 674.36,1197 677.45,1197C680.53,1197 683.62,1197 686.71,1197C689.79,1197 692.88,1197 695.97,1197C699.05,1197 702.14,1197 705.23,1197C708.31,1197 711.4,1197 714.49,1197C717.57,1197 720.66,1197 723.75,1197C726.84,1197 729.92,1197 733.01,1197C736.1,1197 739.18,1196.99 742.27,1197C745.36,1197.01 748.44,1197.03 751.53,1197C754.62,1196.97 757.7,1196.89 760.79,1196.82C763.88,1196.74 766.96,1196.68 770.05,1196.45C773.14,1196.21 776.23,1195.8 779.31,1195.53C782.4,1195.26 785.49,1195.13 788.57,1194.79C791.66,1194.45 794.75,1193.9 797.83,1193.13C800.92,1192.36 804.01,1191.38 807.09,1190.37C810.18,1189.36 813.27,1188.33 816.35,1186.5C819.44,1184.67 822.53,1182.03 825.62,1179.5C828.7,1176.97 831.79,1174.55 834.88,1171.58C837.96,1168.61 841.05,1165.1 844.14,1161.27C847.22,1157.43 850.31,1153.27 853.4,1148.56C856.48,1143.84 859.57,1138.57 862.66,1133.08C865.74,1127.59 868.83,1121.88 871.92,1115.95C875.01,1110.03 878.09,1103.89 881.18,1097.53C884.27,1091.17 887.35,1084.59 890.44,1078.19C893.53,1071.79 896.61,1065.57 899.7,1059.77C902.79,1053.97 905.87,1048.6 908.96,1044.11C912.05,1039.63 915.13,1036.04 918.22,1032.88C921.31,1029.72 924.39,1026.99 927.48,1025.33C930.57,1023.66 933.66,1023.05 936.74,1024.4C939.83,1025.75 942.92,1029.06 946,1032.88C949.09,1036.7 952.18,1041.03 955.26,1046.88C958.35,1052.73 961.44,1060.09 964.52,1068.43C967.61,1076.77 970.7,1086.08 973.78,1095.69C976.87,1105.3 979.96,1115.2 983.05,1125.71C986.13,1136.23 989.22,1147.37 992.31,1158.5C995.39,1169.64 998.48,1180.78 1001.57,1187.42C1004.65,1194.07 1007.74,1196.21 1010.83,1197C1013.91,1197.79 1017,1197.21 1020.09,1197C1023.17,1196.79 1026.26,1196.96 1029.35,1197C1032.44,1197.04 1035.52,1196.97 1038.61,1197C1041.7,1197.03 1044.78,1197.17 1047.87,1197C1050.96,1196.83 1054.04,1196.37 1057.13,1197C1060.22,1197.63 1063.3,1199.36 1066.39,1195.16C1069.48,1190.96 1072.56,1180.84 1075.65,1166.98C1078.74,1153.11 1081.83,1135.51 1084.91,1120C1088,1104.5 1091.09,1091.09 1094.17,1075.06C1097.26,1059.03 1100.35,1040.37 1103.43,1024.4C1106.52,1008.44 1109.61,995.17 1112.69,981.49C1115.78,967.8 1118.87,953.69 1121.95,942.25C1125.04,930.82 1128.13,922.05 1131.22,917.02C1134.3,911.98 1137.39,910.67 1140.48,911.49C1143.56,912.31 1146.65,915.27 1149.74,920.7C1152.82,926.13 1155.91,934.04 1159,946.49C1162.08,958.93 1165.17,975.92 1168.26,990.7C1171.34,1005.48 1174.43,1018.05 1177.52,1033.8C1180.61,1049.54 1183.69,1068.46 1186.78,1084.64C1189.87,1100.82 1192.95,1114.26 1196.04,1130.69C1199.13,1147.12 1202.21,1166.54 1205.3,1178.58C1208.39,1190.62 1211.47,1195.27 1214.56,1197C1217.65,1198.73 1220.73,1197.53 1223.82,1197C1226.91,1196.47 1229.99,1196.62 1233.08,1197C1236.17,1197.38 1239.26,1197.98 1242.34,1197C1245.43,1196.02 1248.52,1193.47 1251.6,1197C1254.69,1200.53 1257.78,1210.13 1260.86,1197C1263.95,1183.87 1267.04,1147.99 1270.12,1197C1273.21,1246.01 1276.3,1379.89 1279.38,1178.58" fill="none" stroke="#9900FF" stroke-width="5.8" stroke-linejoin="round" stroke-linecap="round"/>
<g fill="#9900FF"><circle cx="594.1" cy="1197" r="5.6"/><circle cx="603.36" cy="1197" r="5.6"/><circle cx="612.62" cy="1197" r="5.6"/><circle cx="621.88" cy="1197" r="5.6"/><circle cx="631.14" cy="1197" r="5.6"/><circle cx="640.4" cy="1197" r="5.6"/><circle cx="649.66" cy="1197" r="5.6"/><circle cx="658.92" cy="1197" r="5.6"/><circle cx="668.18" cy="1197" r="5.6"/><circle cx="677.45" cy="1197" r="5.6"/><circle cx="686.71" cy="1197" r="5.6"/><circle cx="695.97" cy="1197" r="5.6"/><circle cx="705.23" cy="1197" r="5.6"/><circle cx="714.49" cy="1197" r="5.6"/><circle cx="723.75" cy="1197" r="5.6"/><circle cx="733.01" cy="1197" r="5.6"/><circle cx="742.27" cy="1197" r="5.6"/><circle cx="751.53" cy="1197" r="5.6"/><circle cx="760.79" cy="1196.82" r="5.6"/><circle cx="770.05" cy="1196.45" r="5.6"/><circle cx="779.31" cy="1195.53" r="5.6"/><circle cx="788.57" cy="1194.79" r="5.6"/><circle cx="797.83" cy="1193.13" r="5.6"/><circle cx="807.09" cy="1190.37" r="5.6"/><circle cx="816.35" cy="1186.5" r="5.6"/><circle cx="825.62" cy="1179.5" r="5.6"/><circle cx="834.88" cy="1171.58" r="5.6"/><circle cx="844.14" cy="1161.27" r="5.6"/><circle cx="853.4" cy="1148.56" r="5.6"/><circle cx="862.66" cy="1133.08" r="5.6"/><circle cx="871.92" cy="1115.95" r="5.6"/><circle cx="881.18" cy="1097.53" r="5.6"/><circle cx="890.44" cy="1078.19" r="5.6"/><circle cx="899.7" cy="1059.77" r="5.6"/><circle cx="908.96" cy="1044.11" r="5.6"/><circle cx="918.22" cy="1032.88" r="5.6"/><circle cx="927.48" cy="1025.33" r="5.6"/><circle cx="936.74" cy="1024.4" r="5.6"/><circle cx="946" cy="1032.88" r="5.6"/><circle cx="955.26" cy="1046.88" r="5.6"/><circle cx="964.52" cy="1068.43" r="5.6"/><circle cx="973.78" cy="1095.69" r="5.6"/><circle cx="983.05" cy="1125.71" r="5.6"/><circle cx="992.31" cy="1158.5" r="5.6"/><circle cx="1001.57" cy="1187.42" r="5.6"/><circle cx="1010.83" cy="1197" r="5.6"/><circle cx="1020.09" cy="1197" r="5.6"/><circle cx="1029.35" cy="1197" r="5.6"/><circle cx="1038.61" cy="1197" r="5.6"/><circle cx="1047.87" cy="1197" r="5.6"/><circle cx="1057.13" cy="1197" r="5.6"/><circle cx="1066.39" cy="1195.16" r="5.6"/><circle cx="1075.65" cy="1166.98" r="5.6"/><circle cx="1084.91" cy="1120" r="5.6"/><circle cx="1094.17" cy="1075.06" r="5.6"/><circle cx="1103.43" cy="1024.4" r="5.6"/><circle cx="1112.69" cy="981.49" r="5.6"/><circle cx="1121.95" cy="942.25" r="5.6"/><circle cx="1131.22" cy="917.02" r="5.6"/><circle cx="1140.48" cy="911.49" r="5.6"/><circle cx="1149.74" cy="920.7" r="5.6"/><circle cx="1159" cy="946.49" r="5.6"/><circle cx="1168.26" cy="990.7" r="5.6"/><circle cx="1177.52" cy="1033.8" r="5.6"/><circle cx="1186.78" cy="1084.64" r="5.6"/><circle cx="1196.04" cy="1130.69" r="5.6"/><circle cx="1205.3" cy="1178.58" r="5.6"/><circle cx="1214.56" cy="1197" r="5.6"/><circle cx="1223.82" cy="1197" r="5.6"/><circle cx="1233.08" cy="1197" r="5.6"/><circle cx="1242.34" cy="1197" r="5.6"/><circle cx="1251.6" cy="1197" r="5.6"/><circle cx="1260.86" cy="1197" r="5.6"/><circle cx="1270.12" cy="1197" r="5.6"/><circle cx="1279.38" cy="1178.58" r="5.6"/></g>
<path d="M594.1,1197C597.19,1197 600.27,1197 603.36,1197C606.45,1197 609.53,1197 612.62,1197C615.71,1197 618.79,1197 621.88,1197C624.97,1197 628.06,1197 631.14,1197C634.23,1197 637.32,1197 640.4,1197C643.49,1197 646.58,1197 649.66,1197C652.75,1197 655.84,1197 658.92,1197C662.01,1197 665.1,1197 668.18,1197C671.27,1197 674.36,1197 677.45,1197C680.53,1197 683.62,1197 686.71,1197C689.79,1197 692.88,1197 695.97,1197C699.05,1197 702.14,1197 705.23,1197C708.31,1197 711.4,1197 714.49,1197C717.57,1197 720.66,1197 723.75,1197C726.84,1197 729.92,1197 733.01,1197C736.1,1197 739.18,1197.01 742.27,1197C745.36,1196.99 748.44,1196.98 751.53,1197C754.62,1197.02 757.7,1197.09 760.79,1197C763.88,1196.91 766.96,1196.67 770.05,1196.45C773.14,1196.23 776.23,1196.02 779.31,1195.89C782.4,1195.77 785.49,1195.71 788.57,1195.34C791.66,1194.97 794.75,1194.29 797.83,1193.87C800.92,1193.45 804.01,1193.29 807.09,1192.95C810.18,1192.61 813.27,1192.08 816.35,1191.29C819.44,1190.5 822.53,1189.44 825.62,1188.16C828.7,1186.88 831.79,1185.38 834.88,1183.92C837.96,1182.47 841.05,1181.06 844.14,1179.32C847.22,1177.57 850.31,1175.49 853.4,1173.24C856.48,1170.99 859.57,1168.57 862.66,1165.87C865.74,1163.17 868.83,1160.19 871.92,1157.21C875.01,1154.23 878.09,1151.25 881.18,1148.19C884.27,1145.12 887.35,1141.98 890.44,1138.98C893.53,1135.97 896.61,1133.1 899.7,1129.58C902.79,1126.07 905.87,1121.91 908.96,1118.16C912.05,1114.42 915.13,1111.09 918.22,1107.85C921.31,1104.6 924.39,1101.43 927.48,1098.45C930.57,1095.48 933.66,1092.7 936.74,1089.98C939.83,1087.26 942.92,1084.61 946,1082.43C949.09,1080.25 952.18,1078.53 955.26,1077.82C958.35,1077.11 961.44,1077.4 964.52,1077.82C967.61,1078.24 970.7,1078.79 973.78,1080.59C976.87,1082.38 979.96,1085.41 983.05,1089.06C986.13,1092.71 989.22,1096.97 992.31,1101.22C995.39,1105.46 998.48,1109.69 1001.57,1114.48C1004.65,1119.27 1007.74,1124.61 1010.83,1130.32C1013.91,1136.03 1017,1142.1 1020.09,1147.27C1023.17,1152.43 1026.26,1156.7 1029.35,1160.34C1032.44,1163.99 1035.52,1167.02 1038.61,1168.82C1041.7,1170.62 1044.78,1171.2 1047.87,1170.66C1050.96,1170.12 1054.04,1168.47 1057.13,1164.95C1060.22,1161.42 1063.3,1156.02 1066.39,1149.11C1069.48,1142.19 1072.56,1133.76 1075.65,1124.61C1078.74,1115.46 1081.83,1105.6 1084.91,1095.69C1088,1085.78 1091.09,1075.83 1094.17,1065.67C1097.26,1055.5 1100.35,1045.12 1103.43,1034.72C1106.52,1024.32 1109.61,1013.88 1112.69,1003.04C1115.78,992.19 1118.87,980.94 1121.95,972.28C1125.04,963.61 1128.13,957.55 1131.22,954.41C1134.3,951.27 1137.39,951.06 1140.48,952.57C1143.56,954.07 1146.65,957.3 1149.74,961.96C1152.82,966.62 1155.91,972.71 1159,981.49C1162.08,990.26 1165.17,1001.72 1168.26,1014.27C1171.34,1026.83 1174.43,1040.48 1177.52,1056.27C1180.61,1072.06 1183.69,1089.98 1186.78,1106.01C1189.87,1122.03 1192.95,1136.15 1196.04,1150.03C1199.13,1163.9 1202.21,1177.53 1205.3,1185.58C1208.39,1193.63 1211.47,1196.12 1214.56,1197C1217.65,1197.88 1220.73,1197.15 1223.82,1197C1226.91,1196.85 1229.99,1197.27 1233.08,1197C1236.17,1196.73 1239.26,1195.77 1242.34,1197C1245.43,1198.23 1248.52,1201.65 1251.6,1197C1254.69,1192.35 1257.78,1179.62 1260.86,1197C1263.95,1214.38 1267.04,1261.87 1270.12,1187.79C1273.21,1113.71 1276.3,918.04 1279.38,602.03" fill="none" stroke="#40A800" stroke-width="5.8" stroke-linejoin="round" stroke-linecap="round"/>
<g fill="#40A800"><circle cx="594.1" cy="1197" r="5.6"/><circle cx="603.36" cy="1197" r="5.6"/><circle cx="612.62" cy="1197" r="5.6"/><circle cx="621.88" cy="1197" r="5.6"/><circle cx="631.14" cy="1197" r="5.6"/><circle cx="640.4" cy="1197" r="5.6"/><circle cx="649.66" cy="1197" r="5.6"/><circle cx="658.92" cy="1197" r="5.6"/><circle cx="668.18" cy="1197" r="5.6"/><circle cx="677.45" cy="1197" r="5.6"/><circle cx="686.71" cy="1197" r="5.6"/><circle cx="695.97" cy="1197" r="5.6"/><circle cx="705.23" cy="1197" r="5.6"/><circle cx="714.49" cy="1197" r="5.6"/><circle cx="723.75" cy="1197" r="5.6"/><circle cx="733.01" cy="1197" r="5.6"/><circle cx="742.27" cy="1197" r="5.6"/><circle cx="751.53" cy="1197" r="5.6"/><circle cx="760.79" cy="1197" r="5.6"/><circle cx="770.05" cy="1196.45" r="5.6"/><circle cx="779.31" cy="1195.89" r="5.6"/><circle cx="788.57" cy="1195.34" r="5.6"/><circle cx="797.83" cy="1193.87" r="5.6"/><circle cx="807.09" cy="1192.95" r="5.6"/><circle cx="816.35" cy="1191.29" r="5.6"/><circle cx="825.62" cy="1188.16" r="5.6"/><circle cx="834.88" cy="1183.92" r="5.6"/><circle cx="844.14" cy="1179.32" r="5.6"/><circle cx="853.4" cy="1173.24" r="5.6"/><circle cx="862.66" cy="1165.87" r="5.6"/><circle cx="871.92" cy="1157.21" r="5.6"/><circle cx="881.18" cy="1148.19" r="5.6"/><circle cx="890.44" cy="1138.98" r="5.6"/><circle cx="899.7" cy="1129.58" r="5.6"/><circle cx="908.96" cy="1118.16" r="5.6"/><circle cx="918.22" cy="1107.85" r="5.6"/><circle cx="927.48" cy="1098.45" r="5.6"/><circle cx="936.74" cy="1089.98" r="5.6"/><circle cx="946" cy="1082.43" r="5.6"/><circle cx="955.26" cy="1077.82" r="5.6"/><circle cx="964.52" cy="1077.82" r="5.6"/><circle cx="973.78" cy="1080.59" r="5.6"/><circle cx="983.05" cy="1089.06" r="5.6"/><circle cx="992.31" cy="1101.22" r="5.6"/><circle cx="1001.57" cy="1114.48" r="5.6"/><circle cx="1010.83" cy="1130.32" r="5.6"/><circle cx="1020.09" cy="1147.27" r="5.6"/><circle cx="1029.35" cy="1160.34" r="5.6"/><circle cx="1038.61" cy="1168.82" r="5.6"/><circle cx="1047.87" cy="1170.66" r="5.6"/><circle cx="1057.13" cy="1164.95" r="5.6"/><circle cx="1066.39" cy="1149.11" r="5.6"/><circle cx="1075.65" cy="1124.61" r="5.6"/><circle cx="1084.91" cy="1095.69" r="5.6"/><circle cx="1094.17" cy="1065.67" r="5.6"/><circle cx="1103.43" cy="1034.72" r="5.6"/><circle cx="1112.69" cy="1003.04" r="5.6"/><circle cx="1121.95" cy="972.28" r="5.6"/><circle cx="1131.22" cy="954.41" r="5.6"/><circle cx="1140.48" cy="952.57" r="5.6"/><circle cx="1149.74" cy="961.96" r="5.6"/><circle cx="1159" cy="981.49" r="5.6"/><circle cx="1168.26" cy="1014.27" r="5.6"/><circle cx="1177.52" cy="1056.27" r="5.6"/><circle cx="1186.78" cy="1106.01" r="5.6"/><circle cx="1196.04" cy="1150.03" r="5.6"/><circle cx="1205.3" cy="1185.58" r="5.6"/><circle cx="1214.56" cy="1197" r="5.6"/><circle cx="1223.82" cy="1197" r="5.6"/><circle cx="1233.08" cy="1197" r="5.6"/><circle cx="1242.34" cy="1197" r="5.6"/><circle cx="1251.6" cy="1197" r="5.6"/><circle cx="1260.86" cy="1197" r="5.6"/><circle cx="1270.12" cy="1187.79" r="5.6"/><circle cx="1279.38" cy="602.03" r="5.6"/></g>
</g>
<rect x="596" y="828" width="7" height="3.8" fill="#000"/>
<rect x="596" y="919.75" width="7" height="3.8" fill="#000"/>
<rect x="596" y="1011.5" width="7" height="3.8" fill="#000"/>
<rect x="596" y="1103.25" width="7" height="3.8" fill="#000"/>
<rect x="596" y="782.33" width="3" height="3.4" fill="#000"/>
<rect x="596" y="874.08" width="3" height="3.4" fill="#000"/>
<rect x="596" y="965.83" width="3" height="3.4" fill="#000"/>
<rect x="596" y="1057.58" width="3" height="3.4" fill="#000"/>
<rect x="596" y="1149.33" width="3" height="3.4" fill="#000"/>
<rect x="745" y="1188.1" width="3.8" height="7" fill="#000"/>
<rect x="897.8" y="1188.1" width="3.8" height="7" fill="#000"/>
<rect x="1050.6" y="1188.1" width="3.8" height="7" fill="#000"/>
<rect x="1203.4" y="1188.1" width="3.8" height="7" fill="#000"/>
<rect x="705.53" y="1191.9" width="3.4" height="3.2" fill="#000"/>
<rect x="858.33" y="1191.9" width="3.4" height="3.2" fill="#000"/>
<rect x="1011.13" y="1191.9" width="3.4" height="3.2" fill="#000"/>
<rect x="1163.93" y="1191.9" width="3.4" height="3.2" fill="#000"/>
<line x1="592.2" y1="782" x2="1251.7" y2="782" stroke="#000" stroke-width="2"/>
<line x1="594.1" y1="736.5" x2="594.1" y2="1198.9" stroke="#000" stroke-width="3.8"/>
<line x1="1250.1" y1="736.5" x2="1250.1" y2="1198.9" stroke="#000" stroke-width="3.8"/>
<line x1="592.2" y1="738.5" x2="1251.7" y2="738.5" stroke="#000" stroke-width="4"/>
<line x1="592.2" y1="1197" x2="1251.7" y2="1197" stroke="#000" stroke-width="3.8"/>
<text transform="translate(584.6,746.35) scale(1,1.07)" font-size="23.8" text-anchor="end">25</text>
<text transform="translate(584.6,838.1) scale(1,1.07)" font-size="23.8" text-anchor="end">20</text>
<text transform="translate(584.6,929.85) scale(1,1.07)" font-size="23.8" text-anchor="end">15</text>
<text transform="translate(584.6,1021.6) scale(1,1.07)" font-size="23.8" text-anchor="end">10</text>
<text transform="translate(584.6,1113.35) scale(1,1.07)" font-size="23.8" text-anchor="end">5</text>
<text transform="translate(584.6,1203.6) scale(1,1.07)" font-size="23.8" text-anchor="end">0</text>
<text transform="translate(594.1,1224.6) scale(1,1.06)" font-size="23.8" text-anchor="middle">0.01</text>
<text transform="translate(746.9,1224.6) scale(1,1.06)" font-size="23.8" text-anchor="middle">0.1</text>
<text transform="translate(899.7,1224.6) scale(1,1.06)" font-size="23.8" text-anchor="middle">1</text>
<text transform="translate(1052.5,1224.6) scale(1,1.06)" font-size="23.8" text-anchor="middle">10</text>
<text transform="translate(1205.3,1224.6) scale(1,1.06)" font-size="23.8" text-anchor="middle">100</text>
<text x="812.2" y="771.6" font-size="27.2" text-anchor="middle">Micropore</text>
<text x="1148.7" y="770.3" font-size="27.2" text-anchor="middle">Mesopore</text>
<text x="871" y="1263" font-size="27"><tspan font-style="italic">T</tspan><tspan font-style="italic" font-size="17" dy="7">2</tspan><tspan dy="-7">(ms)</tspan></text>
<text transform="translate(534.5,965.4) rotate(-90)" font-size="27.2" text-anchor="middle">Signal intensity</text>
<line x1="680.78" y1="880.3" x2="733.42" y2="880.3" stroke="#737373" stroke-width="5.17" stroke-linecap="round"/>
<circle cx="706.9" cy="880.3" r="5.6" fill="#505050"/>
<text x="740.3" y="888" font-size="26.65" text-anchor="start">initial state</text>
<line x1="681.35" y1="913.3" x2="732.85" y2="913.3" stroke="#FF3D3D" stroke-width="6.3" stroke-linecap="round"/>
<circle cx="706.9" cy="913.3" r="5.6" fill="#FF3D3D"/>
<text x="740.3" y="921" font-size="26.65" text-anchor="start">2MPa loading</text>
<line x1="681.35" y1="946.9" x2="732.85" y2="946.9" stroke="#9900FF" stroke-width="6.3" stroke-linecap="round"/>
<circle cx="706.9" cy="946.9" r="5.6" fill="#9900FF"/>
<text x="740.3" y="954.6" font-size="26.65" text-anchor="start">3MPa loadin</text>
<line x1="681.35" y1="980.1" x2="732.85" y2="980.1" stroke="#40A800" stroke-width="6.3" stroke-linecap="round"/>
<circle cx="706.9" cy="980.1" r="5.6" fill="#40A800"/>
<text x="740.3" y="987.8" font-size="26.65" text-anchor="start">4MPa loading</text>
</svg>
</body></html>
